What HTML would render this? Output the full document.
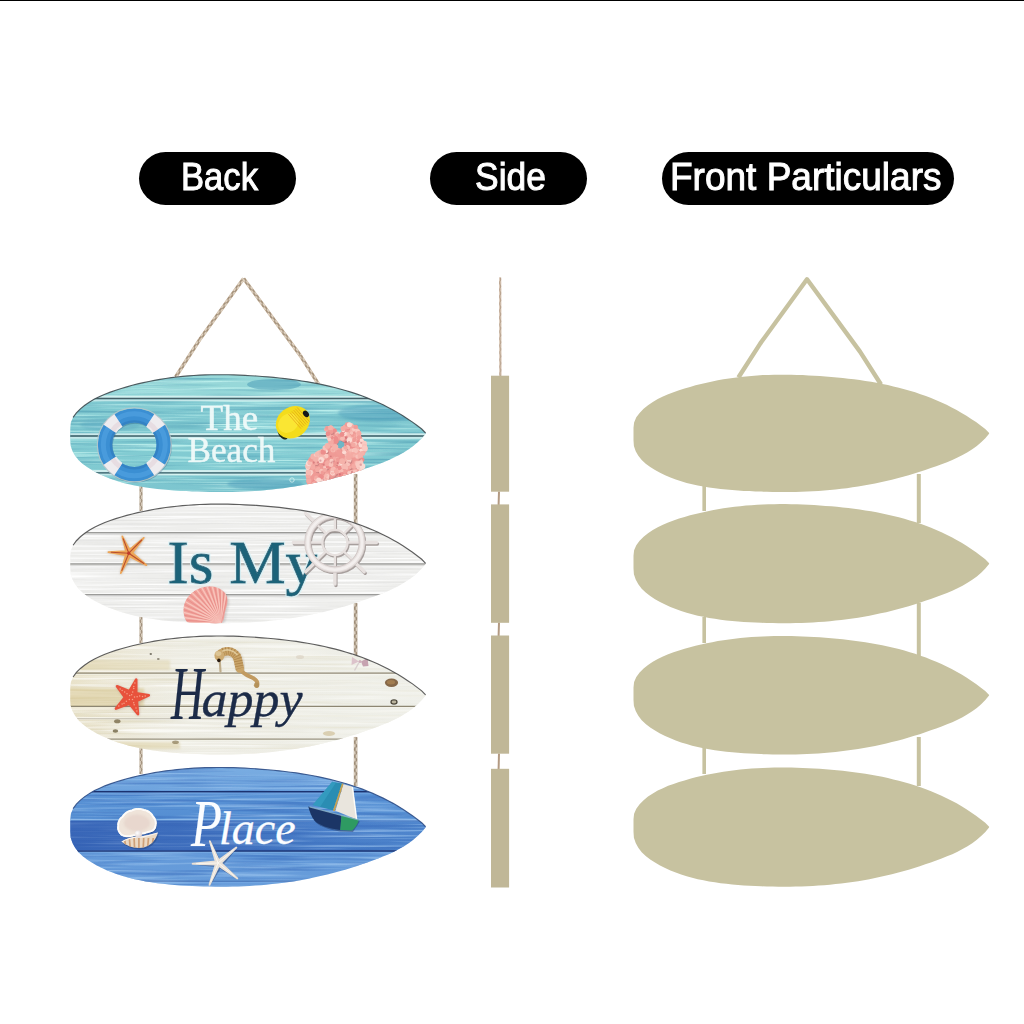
<!DOCTYPE html>
<html lang="en">
<head>
<meta charset="utf-8">
<title>Surfboard hanging sign - Back, Side, Front Particulars</title>
<style>
html,body{margin:0;padding:0;background:#fff}
body{width:1024px;height:1024px;overflow:hidden;position:relative;font-family:"Liberation Sans",sans-serif}
.topline{position:absolute;left:0;top:0;width:1024px;height:1.4px;background:#000}
.art{position:absolute;left:0;top:0;display:block}
.pill{position:absolute;top:151.5px;height:53.5px;border-radius:27px;background:#000;color:#fff;overflow:hidden}
.pill span{position:absolute;left:0;top:0;white-space:nowrap;font-size:39.6px;line-height:49.4px;transform-origin:0 50%;-webkit-text-stroke:1px #fff}
.art text{font-family:"Liberation Serif",serif}
.script{position:absolute;left:0;top:0;margin:0;font-family:"Liberation Serif",serif;font-style:italic;font-weight:normal;white-space:nowrap;line-height:1}
.script span,.script::before{position:absolute;display:block;transform-origin:0 0}
.happy::before{content:"H";left:170.5px;top:656.2px;font-size:48px;transform:scale(0.95,1.57);-webkit-text-stroke:0.15px currentColor}
.place::before{content:"P";left:190.5px;top:789.5px;font-size:44px;transform:scale(1.15,1.56);-webkit-text-stroke:0.1px currentColor}
.script .word::first-letter{color:transparent;-webkit-text-stroke-color:transparent}
.happy{color:#1c2b48}
.place{color:#fbfdff}
</style>
</head>
<body>
<div class="topline"></div>
<div class="pill" style="left:139px;width:157px"><span style="left:42.3px;transform:scaleX(0.875)">Back</span></div>
<div class="pill" style="left:430px;width:157px"><span style="left:45.0px;transform:scaleX(0.895)">Side</span></div>
<div class="pill" style="left:661.5px;width:292.3px"><span style="left:8.9px;transform:scaleX(0.935)">Front Particulars</span></div>
<svg class="art" width="1024" height="1024" viewBox="0 0 1024 1024" role="img" aria-label="Hanging surfboard sign: back, side and front views">
<defs>
<path id="bd" d="M0 57L0 50.9L0.6 45.4L2.8 40.4L6.1 35.9L10.1 31.9L14.5 28.4L19.3 25.2L24.2 22.4L29.4 20L34.6 17.7L40 15.8L45.5 13.9L51 12.3L56.5 10.7L62 9.3L67.5 8L73.1 6.8L78.7 5.7L84.2 4.6L89.8 3.7L95.4 2.9L101 2.2L106.7 1.6L112.3 1L117.9 0.6L123.6 0.2L129.2 -0.1L134.9 -0.3L140.6 -0.4L146.3 -0.5L151.9 -0.5L157.6 -0.4L163.3 -0.3L169 -0.1L174.7 0.2L180.4 0.5L186.1 0.8L191.8 1.3L197.6 1.7L203.3 2.2L209 2.8L214.6 3.5L220.3 4.2L226 4.9L231.6 5.8L237.3 6.7L242.9 7.7L248.5 8.8L254.1 10L259.6 11.3L265.1 12.6L270.6 14.1L276 15.7L281.4 17.3L286.7 19.1L292.1 21L297.3 23.1L302.5 25.2L307.7 27.5L312.8 29.9L317.9 32.5L322.8 35.1L327.8 38L332.6 40.9L337.4 44.1L342.2 47.3L346.8 50.8L351.4 54.3L355.3 58.3L355.2 59L351.5 63.5L347.3 67.6L343 71.3L338.4 74.7L333.7 77.7L328.7 80.5L323.7 83.1L318.5 85.5L313.2 87.7L307.8 89.8L302.4 91.8L297 93.7L291.5 95.6L286 97.5L280.5 99.2L274.9 100.9L269.3 102.5L263.7 104L258.1 105.4L252.5 106.8L246.9 108L241.3 109.2L235.7 110.3L230.1 111.3L224.4 112.3L218.8 113.1L213.2 113.9L207.5 114.6L201.8 115.2L196.2 115.8L190.5 116.3L184.8 116.7L179.1 117L173.4 117.3L167.7 117.5L162 117.7L156.3 117.8L150.6 117.8L144.8 117.8L139.1 117.7L133.3 117.6L127.5 117.4L121.8 117.1L116 116.8L110.2 116.5L104.4 116L98.6 115.6L92.8 115L87 114.3L81.3 113.5L75.5 112.6L69.9 111.5L64.2 110.3L58.6 109L53.1 107.4L47.6 105.7L42.2 103.8L36.9 101.7L31.6 99.3L26.5 96.8L21.5 93.9L16.7 90.8L12.2 87.4L8.2 83.5L4.8 79.2L2.2 74.4L0.4 69.1L0 63.3L0 57Z"/>
<path id="bt" d="M2.8 40.4L6.1 35.9L10.1 31.9L14.5 28.4L19.3 25.2L24.2 22.4L29.4 20L34.6 17.7L40 15.8L45.5 13.9L51 12.3L56.5 10.7L62 9.3L67.5 8L73.1 6.8L78.7 5.7L84.2 4.6L89.8 3.7L95.4 2.9L101 2.2L106.7 1.6L112.3 1L117.9 0.6L123.6 0.2L129.2 -0.1L134.9 -0.3L140.6 -0.4L146.3 -0.5L151.9 -0.5L157.6 -0.4L163.3 -0.3L169 -0.1L174.7 0.2L180.4 0.5L186.1 0.8L191.8 1.3L197.6 1.7L203.3 2.2L209 2.8L214.6 3.5L220.3 4.2L226 4.9L231.6 5.8L237.3 6.7L242.9 7.7L248.5 8.8L254.1 10L259.6 11.3L265.1 12.6L270.6 14.1L276 15.7L281.4 17.3L286.7 19.1L292.1 21L297.3 23.1L302.5 25.2L307.7 27.5L312.8 29.9L317.9 32.5L322.8 35.1L327.8 38L332.6 40.9L337.4 44.1L342.2 47.3L346.8 50.8L351.4 54.3L355.3 58.3"/>
<path id="bd1" d="M0 59.2L0 53.1L0.6 47.6L2.8 42.5L6.1 38L10.1 33.9L14.5 30.3L19.3 27L24.2 24.1L29.4 21.5L34.6 19.2L40 17.1L45.5 15.2L51 13.4L56.5 11.8L62 10.2L67.5 8.8L73.1 7.5L78.7 6.3L84.2 5.2L89.8 4.2L95.4 3.3L101 2.5L106.7 1.8L112.3 1.2L117.9 0.7L123.6 0.3L129.2 -0.1L134.9 -0.3L140.6 -0.4L146.3 -0.5L151.9 -0.5L157.6 -0.4L163.3 -0.3L169 -0.1L174.7 0.2L180.4 0.5L186.1 0.8L191.8 1.3L197.6 1.7L203.3 2.2L209 2.8L214.6 3.5L220.3 4.2L226 4.9L231.6 5.8L237.3 6.7L242.9 7.7L248.5 8.8L254.1 10L259.6 11.3L265.1 12.6L270.6 14.1L276 15.7L281.4 17.3L286.7 19.1L292.1 21L297.3 23.1L302.5 25.2L307.7 27.5L312.8 29.9L317.9 32.5L322.8 35.1L327.8 38L332.6 40.9L337.4 44.1L342.2 47.3L346.8 50.8L351.4 54.3L355.3 58.3L355.2 59L351.5 63.5L347.3 67.6L343 71.3L338.4 74.7L333.7 77.7L328.7 80.5L323.7 83.1L318.5 85.5L313.2 87.7L307.8 89.8L302.4 91.8L297 93.7L291.5 95.6L286 97.5L280.5 99.2L274.9 100.9L269.3 102.5L263.7 104L258.1 105.4L252.5 106.8L246.9 108L241.3 109.2L235.7 110.3L230.1 111.3L224.4 112.3L218.8 113.1L213.2 113.9L207.5 114.6L201.8 115.2L196.2 115.8L190.5 116.3L184.8 116.7L179.1 117L173.4 117.3L167.7 117.5L162 117.7L156.3 117.8L150.6 117.8L144.8 117.8L139.1 117.7L133.3 117.6L127.5 117.4L121.8 117.2L116 116.9L110.2 116.7L104.4 116.3L98.6 115.9L92.8 115.4L87 114.8L81.3 114.1L75.5 113.3L69.9 112.3L64.2 111.2L58.6 110L53.1 108.6L47.6 106.9L42.2 105.1L36.9 103.1L31.6 100.9L26.5 98.4L21.5 95.7L16.7 92.7L12.2 89.3L8.2 85.5L4.8 81.3L2.2 76.6L0.4 71.3L0 65.5L0 59.2Z"/>
<path id="bt1" d="M2.8 42.5L6.1 38L10.1 33.9L14.5 30.3L19.3 27L24.2 24.1L29.4 21.5L34.6 19.2L40 17.1L45.5 15.2L51 13.4L56.5 11.8L62 10.2L67.5 8.8L73.1 7.5L78.7 6.3L84.2 5.2L89.8 4.2L95.4 3.3L101 2.5L106.7 1.8L112.3 1.2L117.9 0.7L123.6 0.3L129.2 -0.1L134.9 -0.3L140.6 -0.4L146.3 -0.5L151.9 -0.5L157.6 -0.4L163.3 -0.3L169 -0.1L174.7 0.2L180.4 0.5L186.1 0.8L191.8 1.3L197.6 1.7L203.3 2.2L209 2.8L214.6 3.5L220.3 4.2L226 4.9L231.6 5.8L237.3 6.7L242.9 7.7L248.5 8.8L254.1 10L259.6 11.3L265.1 12.6L270.6 14.1L276 15.7L281.4 17.3L286.7 19.1L292.1 21L297.3 23.1L302.5 25.2L307.7 27.5L312.8 29.9L317.9 32.5L322.8 35.1L327.8 38L332.6 40.9L337.4 44.1L342.2 47.3L346.8 50.8L351.4 54.3L355.3 58.3"/>
<clipPath id="c1"><use href="#bd1" transform="translate(70.3 375.2) scale(1 0.9915)"/></clipPath>
<clipPath id="c2"><use href="#bd" transform="translate(70.3 504.6) scale(1 1.0068)"/></clipPath>
<clipPath id="c3"><use href="#bd" transform="translate(70.3 636.5) scale(1 1.0017)"/></clipPath>
<clipPath id="c4"><use href="#bd" transform="translate(70.3 768) scale(1 1.0076)"/></clipPath>
<filter id="t1a" x="0" y="0" width="100%" height="100%" color-interpolation-filters="sRGB"><feTurbulence type="fractalNoise" baseFrequency="0.01 0.42" numOctaves="2" seed="3"/><feColorMatrix type="matrix" values="0 0 0 0 0.769 0 0 0 0 0.957 0 0 0 0 0.941 3.00 0 0 0 -1.40"/></filter>
<filter id="t1b" x="0" y="0" width="100%" height="100%" color-interpolation-filters="sRGB"><feTurbulence type="fractalNoise" baseFrequency="0.009 0.36" numOctaves="2" seed="8"/><feColorMatrix type="matrix" values="0 0 0 0 0.345 0 0 0 0 0.643 0 0 0 0 0.722 3.20 0 0 0 -1.60"/></filter>
<filter id="t2a" x="0" y="0" width="100%" height="100%" color-interpolation-filters="sRGB"><feTurbulence type="fractalNoise" baseFrequency="0.008 0.5" numOctaves="2" seed="5"/><feColorMatrix type="matrix" values="0 0 0 0 1.000 0 0 0 0 1.000 0 0 0 0 1.000 3.00 0 0 0 -1.30"/></filter>
<filter id="t2b" x="0" y="0" width="100%" height="100%" color-interpolation-filters="sRGB"><feTurbulence type="fractalNoise" baseFrequency="0.007 0.55" numOctaves="2" seed="12"/><feColorMatrix type="matrix" values="0 0 0 0 0.769 0 0 0 0 0.769 0 0 0 0 0.761 2.60 0 0 0 -1.25"/></filter>
<filter id="t3a" x="0" y="0" width="100%" height="100%" color-interpolation-filters="sRGB"><feTurbulence type="fractalNoise" baseFrequency="0.009 0.4" numOctaves="2" seed="21"/><feColorMatrix type="matrix" values="0 0 0 0 0.988 0 0 0 0 0.984 0 0 0 0 0.965 3.00 0 0 0 -1.30"/></filter>
<filter id="t3b" x="0" y="0" width="100%" height="100%" color-interpolation-filters="sRGB"><feTurbulence type="fractalNoise" baseFrequency="0.008 0.34" numOctaves="2" seed="17"/><feColorMatrix type="matrix" values="0 0 0 0 0.808 0 0 0 0 0.769 0 0 0 0 0.612 3.00 0 0 0 -1.50"/></filter>
<filter id="t4a" x="0" y="0" width="100%" height="100%" color-interpolation-filters="sRGB"><feTurbulence type="fractalNoise" baseFrequency="0.01 0.4" numOctaves="2" seed="4"/><feColorMatrix type="matrix" values="0 0 0 0 0.588 0 0 0 0 0.753 0 0 0 0 0.925 3.20 0 0 0 -1.50"/></filter>
<filter id="t4b" x="0" y="0" width="100%" height="100%" color-interpolation-filters="sRGB"><feTurbulence type="fractalNoise" baseFrequency="0.009 0.33" numOctaves="2" seed="9"/><feColorMatrix type="matrix" values="0 0 0 0 0.235 0 0 0 0 0.439 0 0 0 0 0.745 3.20 0 0 0 -1.55"/></filter>
<filter id="spk" x="0" y="0" width="100%" height="100%" color-interpolation-filters="sRGB"><feTurbulence type="fractalNoise" baseFrequency="0.55 0.55" numOctaves="1" seed="2"/><feColorMatrix type="matrix" values="0 0 0 0 1.000 0 0 0 0 0.925 0 0 0 0 0.886 3.20 0 0 0 -1.50"/></filter>
<filter id="spd" x="0" y="0" width="100%" height="100%" color-interpolation-filters="sRGB"><feTurbulence type="fractalNoise" baseFrequency="0.45 0.45" numOctaves="1" seed="6"/><feColorMatrix type="matrix" values="0 0 0 0 0.769 0 0 0 0 0.329 0 0 0 0 0.361 3.00 0 0 0 -1.55"/></filter>
<filter id="halo" x="-5%" y="-10%" width="110%" height="120%"><feMorphology in="SourceAlpha" operator="dilate" radius="1.1"/><feGaussianBlur stdDeviation=".6" result="b"/><feFlood flood-color="#d6f2f7" flood-opacity=".85"/><feComposite in2="b" operator="in"/><feMerge><feMergeNode/><feMergeNode in="SourceGraphic"/></feMerge></filter>
<filter id="soft" x="-20%" y="-20%" width="140%" height="140%"><feGaussianBlur stdDeviation="0.6"/></filter>
<filter id="soft2" x="-20%" y="-20%" width="140%" height="140%"><feGaussianBlur stdDeviation="1.2"/></filter>
<filter id="sil" x="-2%" y="-2%" width="104%" height="104%"><feTurbulence type="fractalNoise" baseFrequency="0.08" numOctaves="2" seed="4" result="n"/><feDisplacementMap in="SourceGraphic" in2="n" scale="1.6"/></filter>
<linearGradient id="g1" x1="0" y1="0" x2="0" y2="1"><stop offset="0" stop-color="#9adada"/><stop offset=".19" stop-color="#94d6d8"/><stop offset=".21" stop-color="#80c9d1"/><stop offset=".51" stop-color="#7ec8d0"/><stop offset=".53" stop-color="#84cdd3"/><stop offset=".82" stop-color="#80cad1"/><stop offset=".84" stop-color="#7fc8d0"/><stop offset="1" stop-color="#7cc5cf"/></linearGradient>
<linearGradient id="g3" x1="0" y1="0" x2="1" y2="0"><stop offset="0" stop-color="#e9e2c9"/><stop offset=".3" stop-color="#edebe0"/><stop offset="1" stop-color="#eeeee8"/></linearGradient>
<linearGradient id="g4" x1="0" y1="0" x2="0" y2="1"><stop offset="0" stop-color="#7aade2"/><stop offset=".19" stop-color="#6fa4de"/><stop offset=".21" stop-color="#5c95d7"/><stop offset=".43" stop-color="#558ed2"/><stop offset=".45" stop-color="#5188cf"/><stop offset=".69" stop-color="#4c83cb"/><stop offset=".71" stop-color="#6399d9"/><stop offset="1" stop-color="#699edb"/></linearGradient>
<linearGradient id="g4d" x1="0" y1="0" x2="1" y2="0"><stop offset="0" stop-color="#2a52aa" stop-opacity=".62"/><stop offset=".4" stop-color="#2a52aa" stop-opacity=".42"/><stop offset=".75" stop-color="#2a52aa" stop-opacity=".12"/><stop offset="1" stop-color="#2a52aa" stop-opacity="0"/></linearGradient>
<linearGradient id="g3w" x1="0" y1="0" x2="1" y2="0"><stop offset="0" stop-color="#eff0ea" stop-opacity="0"/><stop offset=".3" stop-color="#eff0ea" stop-opacity=".25"/><stop offset="1" stop-color="#eff0ea" stop-opacity=".6"/></linearGradient>
<radialGradient id="gpearl" cx=".35" cy=".35" r=".7"><stop offset="0" stop-color="#ffffff"/><stop offset="1" stop-color="#d9cfd0"/></radialGradient>
</defs>
<g id="front" fill="#c7c2a0" stroke="none">
<path d="M738.4 377.5L760.2 343.6L807 279.2L860 351.6L881 384.5" fill="none" stroke="#c7c2a0" stroke-width="4.4" stroke-linejoin="round" stroke-linecap="butt"/>
<rect x="702.4" y="486" width="3.6" height="25"/>
<rect x="702.4" y="617" width="3.6" height="26"/>
<rect x="702.4" y="748" width="3.6" height="26"/>
<rect x="916.8" y="474" width="4" height="49"/>
<rect x="916.8" y="603" width="4" height="53"/>
<rect x="916.8" y="737" width="4" height="49"/>
<use href="#bd1" transform="translate(633.5 375.2) scale(1.001 0.9915)"/>
<use href="#bd" transform="translate(633.5 504.6) scale(1.001 1.0068)"/>
<use href="#bd" transform="translate(633.5 636.5) scale(1.001 1.0017)"/>
<use href="#bd" transform="translate(633.5 768) scale(1.001 1.0076)"/>
</g>
<g id="side">
<line x1="500.2" y1="277.5" x2="500.4" y2="376" stroke="#c7ab94" stroke-width="2.0" opacity="1"/><path d="M500.2 277.5L499.6 279L499.9 280.5L500.7 282L500.7 283.6L499.9 285.1L499.6 286.6L500.3 288.1L500.9 289.6L500.4 291.1L499.7 292.7L499.8 294.2L500.6 295.7L500.8 297.2L500.1 298.7L499.6 300.2L500.1 301.7L500.8 303.3L500.6 304.8L499.8 306.3L499.7 307.8L500.4 309.3L500.9 310.8L500.4 312.4L499.7 313.9L499.9 315.4L500.7 316.9L500.8 318.4L500 319.9L499.7 321.4L500.3 323L500.9 324.5L500.6 326L499.8 327.5L499.8 329L500.6 330.5L500.9 332.1L500.3 333.6L499.7 335.1L500.1 336.6L500.9 338.1L500.8 339.6L500 341.1L499.7 342.7L500.4 344.2L501 345.7L500.5 347.2L499.8 348.7L499.9 350.2L500.8 351.8L500.9 353.3L500.2 354.8L499.7 356.3L500.3 357.8L501 359.3L500.7 360.8L499.9 362.4L499.8 363.9L500.6 365.4L501 366.9L500.4 368.4L499.8 369.9L500.1 371.5L500.9 373L500.9 374.5L500.1 376" fill="none" stroke="#e6dccf" stroke-width="0.8" opacity=".75"/><path d="M500.2 277.5L500.8 279L500.5 280.5L499.7 282L499.7 283.6L500.5 285.1L500.8 286.6L500.2 288.1L499.6 289.6L500 291.1L500.8 292.7L500.7 294.2L499.9 295.7L499.7 297.2L500.4 298.7L500.9 300.2L500.4 301.7L499.7 303.3L499.9 304.8L500.7 306.3L500.8 307.8L500.1 309.3L499.6 310.8L500.2 312.4L500.9 313.9L500.6 315.4L499.8 316.9L499.8 318.4L500.5 319.9L500.9 321.4L500.3 323L499.7 324.5L500 326L500.8 327.5L500.8 329L500 330.5L499.7 332.1L500.4 333.6L500.9 335.1L500.5 336.6L499.8 338.1L499.9 339.6L500.7 341.1L500.9 342.7L500.2 344.2L499.7 345.7L500.2 347.2L500.9 348.7L500.8 350.2L499.9 351.8L499.8 353.3L500.5 354.8L501 356.3L500.5 357.8L499.8 359.3L500 360.8L500.8 362.4L500.9 363.9L500.2 365.4L499.7 366.9L500.3 368.4L501 369.9L500.7 371.5L499.9 373L499.9 374.5L500.7 376" fill="none" stroke="#8c7b68" stroke-width="0.6" opacity=".6"/>
<line x1="499" y1="491.5" x2="498.6" y2="505" stroke="#b39a82" stroke-width="2"/>
<line x1="499" y1="622.5" x2="498.6" y2="636" stroke="#b39a82" stroke-width="2"/>
<line x1="499" y1="753.5" x2="498.6" y2="769" stroke="#b39a82" stroke-width="2"/>
<rect x="491" y="375.7" width="18.1" height="116" fill="#c0b797"/>
<rect x="491" y="504.4" width="18.1" height="118.4" fill="#c0b797"/>
<rect x="491" y="635.5" width="18.1" height="118.2" fill="#c0b797"/>
<rect x="491" y="768.8" width="18.1" height="118.7" fill="#c0b797"/>
</g>
<g id="back">
<line x1="175.6" y1="377" x2="199.6" y2="339.8" stroke="#c5b097" stroke-width="3.5" opacity="1"/><path d="M175.6 377L177.3 376.3L177.6 374.7L177.3 372.7L178.2 371.4L180.2 370.9L181.4 369.9L181.2 367.9L181.3 366.1L182.8 365.3L184.7 364.7L185.3 363.3L184.9 361.2L185.5 359.8L187.5 359.2L188.9 358.4L188.9 356.5L188.8 354.6L190.1 353.6L192.1 353.1L192.9 351.8L192.5 349.8L192.9 348.2L194.7 347.6L196.4 346.8L196.6 345.1L196.3 343.1L197.3 342L199.4 341.5L200.4 340.3" fill="none" stroke="#e6dccf" stroke-width="1.3" opacity=".75"/><path d="M175.6 377L175.5 375.1L176.9 374.2L178.9 373.7L179.6 372.3L179.2 370.3L179.7 368.7L181.5 368.1L183.2 367.3L183.3 365.6L183 363.6L184.1 362.5L186.2 362L187.2 360.8L186.9 358.8L187.1 357.2L188.8 356.4L190.6 355.8L190.9 354.2L190.6 352.2L191.4 350.9L193.4 350.4L194.7 349.4L194.5 347.4L194.5 345.6L196 344.8L197.9 344.2L198.6 342.8L198.2 340.7L198.8 339.3" fill="none" stroke="#8c7b68" stroke-width="1.1" opacity=".6"/>
<line x1="199.6" y1="339.8" x2="243.6" y2="278.5" stroke="#c5b097" stroke-width="3.5" opacity="1"/><path d="M199.6 339.8L201.4 339.2L201.7 337.6L201.5 335.6L202.4 334.4L204.4 334L205.8 333.1L205.7 331.2L205.7 329.3L207.2 328.5L209.2 328.1L209.9 326.8L209.7 324.7L210.2 323.2L212 322.7L213.7 322.1L214 320.4L213.8 318.4L214.8 317.3L216.8 316.9L218 315.9L217.9 313.9L218.1 312.2L219.6 311.4L221.5 311L222.2 309.6L221.9 307.5L222.5 306.1L224.4 305.6L226 304.9L226.2 303.2L226 301.2L227.2 300.2L229.2 299.8L230.3 298.7L230.1 296.7L230.4 295L232 294.3L233.9 293.8L234.4 292.3L234.2 290.3L234.9 289L236.9 288.5L238.3 287.7L238.4 285.9L238.3 284L239.6 283.1L241.6 282.7L242.6 281.5L242.4 279.5L242.7 277.9" fill="none" stroke="#e6dccf" stroke-width="1.3" opacity=".75"/><path d="M199.6 339.8L199.6 337.9L201 337.1L203 336.6L203.8 335.4L203.6 333.4L204 331.8L205.8 331.3L207.5 330.6L207.9 329L207.6 327L208.6 325.8L210.6 325.4L211.9 324.5L211.8 322.6L211.9 320.8L213.4 320L215.3 319.5L216.1 318.2L215.8 316.1L216.4 314.7L218.2 314.2L219.9 313.5L220.1 311.8L219.9 309.8L221 308.7L223 308.3L224.2 307.3L224 305.3L224.2 303.6L225.8 302.9L227.7 302.4L228.3 301L228 298.9L228.7 297.5L230.7 297.1L232.2 296.3L232.3 294.5L232.2 292.6L233.4 291.6L235.4 291.2L236.5 290.1L236.3 288.1L236.5 286.4L238.2 285.8L240.1 285.3L240.5 283.7L240.3 281.7L241.1 280.4L243.1 280L244.5 279.1" fill="none" stroke="#8c7b68" stroke-width="1.1" opacity=".6"/>
<line x1="243.6" y1="278.5" x2="300.2" y2="355.4" stroke="#c5b097" stroke-width="3.5" opacity="1"/><path d="M243.6 278.5L243.6 280.4L245 281.2L247 281.6L247.9 282.9L247.6 284.9L248.1 286.5L250 287L251.7 287.6L252 289.3L251.8 291.3L252.9 292.4L254.9 292.8L256.1 293.8L256 295.7L256.2 297.5L257.8 298.2L259.7 298.6L260.3 300.1L260.1 302.1L260.8 303.5L262.7 303.9L264.3 304.7L264.4 306.5L264.3 308.4L265.6 309.4L267.6 309.8L268.6 310.9L268.4 312.9L268.8 314.6L270.5 315.1L272.3 315.7L272.7 317.3L272.5 319.3L273.5 320.5L275.5 320.9L276.8 321.8L276.8 323.7L276.8 325.5L278.3 326.3L280.3 326.8L281.1 328.1L280.8 330.1L281.4 331.6L283.3 332.1L284.9 332.8L285.2 334.5L285 336.5L286.2 337.5L288.2 337.9L289.3 338.9L289.2 340.9L289.4 342.6L291.1 343.3L293 343.8L293.5 345.3L293.3 347.3L294.1 348.6L296 349.1L297.5 349.9L297.6 351.7L297.5 353.6L298.9 354.5L300.9 354.9" fill="none" stroke="#e6dccf" stroke-width="1.3" opacity=".75"/><path d="M243.6 278.5L245.4 279.1L245.8 280.7L245.6 282.7L246.5 283.9L248.5 284.3L249.8 285.2L249.8 287.1L249.9 288.9L251.4 289.7L253.4 290.1L254.1 291.5L253.9 293.5L254.5 295L256.4 295.5L258 296.1L258.2 297.9L258.1 299.9L259.2 300.9L261.3 301.3L262.4 302.3L262.2 304.3L262.5 306L264.1 306.7L266 307.2L266.5 308.7L266.3 310.7L267.1 312L269.1 312.4L270.5 313.2L270.6 315.1L270.6 317L272 317.8L274 318.3L274.8 319.5L274.6 321.5L275.1 323.1L276.9 323.6L278.6 324.2L278.9 325.9L278.8 327.9L279.8 329L281.8 329.4L283.1 330.4L283 332.3L283.1 334.1L284.7 334.8L286.6 335.3L287.3 336.7L287.1 338.7L287.7 340.1L289.7 340.6L291.2 341.3L291.4 343.1L291.3 345L292.5 346L294.5 346.4L295.6 347.5L295.4 349.5L295.7 351.2L297.5 351.8L299.3 352.3L299.7 353.9L299.5 355.9" fill="none" stroke="#8c7b68" stroke-width="1.1" opacity=".6"/>
<line x1="300.2" y1="355.4" x2="318.4" y2="384" stroke="#c5b097" stroke-width="3.5" opacity="1"/><path d="M300.2 355.4L300.1 357.3L301.5 358.2L303.5 358.8L304.2 360.2L303.8 362.3L304.3 363.7L306.2 364.3L307.8 365.2L307.8 367L307.6 369L308.9 370L310.9 370.5L311.7 371.8L311.3 373.9L311.7 375.5L313.6 376.1L315.2 376.9L315.3 378.7L315.1 380.6L316.2 381.7L318.2 382.3L319.2 383.5" fill="none" stroke="#e6dccf" stroke-width="1.3" opacity=".75"/><path d="M300.2 355.4L302 356.1L302.2 357.8L301.9 359.8L302.9 361L304.9 361.5L306 362.7L305.8 364.7L305.9 366.4L307.5 367.2L309.4 367.8L309.7 369.4L309.4 371.5L310.2 372.8L312.2 373.3L313.5 374.3L313.3 376.3L313.3 378.1L314.9 378.9L316.8 379.6L317.3 381.1L316.9 383.1L317.6 384.5" fill="none" stroke="#8c7b68" stroke-width="1.1" opacity=".6"/>
<line x1="141" y1="485" x2="141" y2="511" stroke="#b3a28d" stroke-width="3.0" opacity="1"/><path d="M141 485L140.1 486.5L140.6 488.1L141.8 489.6L141.7 491.1L140.5 492.6L140.1 494.2L141.2 495.7L142 497.2L141.2 498.8L140.1 500.3L140.5 501.8L141.7 503.4L141.8 504.9L140.7 506.4L140.1 507.9L141 509.5L141.9 511" fill="none" stroke="#e6dccf" stroke-width="1.1" opacity=".75"/><path d="M141 485L141.9 486.5L141.4 488.1L140.2 489.6L140.3 491.1L141.5 492.6L141.9 494.2L140.8 495.7L140 497.2L140.8 498.8L141.9 500.3L141.5 501.8L140.3 503.4L140.2 504.9L141.3 506.4L141.9 507.9L141 509.5L140.1 511" fill="none" stroke="#8c7b68" stroke-width="0.9" opacity=".6"/>
<line x1="141" y1="616" x2="141" y2="643" stroke="#b3a28d" stroke-width="3.0" opacity="1"/><path d="M141 616L140.1 617.5L140.6 619L141.8 620.5L141.8 622L140.6 623.5L140.1 625L141 626.5L141.9 628L141.4 629.5L140.2 631L140.2 632.5L141.4 634L141.9 635.5L141 637L140.1 638.5L140.6 640L141.8 641.5L141.8 643" fill="none" stroke="#e6dccf" stroke-width="1.1" opacity=".75"/><path d="M141 616L141.9 617.5L141.4 619L140.2 620.5L140.2 622L141.4 623.5L141.9 625L141 626.5L140.1 628L140.6 629.5L141.8 631L141.8 632.5L140.6 634L140.1 635.5L141 637L141.9 638.5L141.4 640L140.2 641.5L140.2 643" fill="none" stroke="#8c7b68" stroke-width="0.9" opacity=".6"/>
<line x1="141" y1="747" x2="141" y2="774" stroke="#b3a28d" stroke-width="3.0" opacity="1"/><path d="M141 747L140.1 748.5L140.6 750L141.8 751.5L141.8 753L140.6 754.5L140.1 756L141 757.5L141.9 759L141.4 760.5L140.2 762L140.2 763.5L141.4 765L141.9 766.5L141 768L140.1 769.5L140.6 771L141.8 772.5L141.8 774" fill="none" stroke="#e6dccf" stroke-width="1.1" opacity=".75"/><path d="M141 747L141.9 748.5L141.4 750L140.2 751.5L140.2 753L141.4 754.5L141.9 756L141 757.5L140.1 759L140.6 760.5L141.8 762L141.8 763.5L140.6 765L140.1 766.5L141 768L141.9 769.5L141.4 771L140.2 772.5L140.2 774" fill="none" stroke="#8c7b68" stroke-width="0.9" opacity=".6"/>
<line x1="355.6" y1="474" x2="355.6" y2="523" stroke="#b3a28d" stroke-width="3.6" opacity="1"/><path d="M355.6 474L354.5 475.5L355.2 477.1L356.6 478.6L356.4 480.1L355 481.7L354.5 483.2L355.8 484.7L356.8 486.2L355.8 487.8L354.5 489.3L355 490.8L356.4 492.4L356.6 493.9L355.2 495.4L354.5 497L355.6 498.5L356.7 500L356 501.6L354.6 503.1L354.8 504.6L356.2 506.2L356.7 507.7L355.4 509.2L354.4 510.8L355.4 512.3L356.7 513.8L356.2 515.3L354.8 516.9L354.6 518.4L356 519.9L356.7 521.5L355.6 523" fill="none" stroke="#e6dccf" stroke-width="1.4" opacity=".75"/><path d="M355.6 474L356.7 475.5L356 477.1L354.6 478.6L354.8 480.1L356.2 481.7L356.7 483.2L355.4 484.7L354.4 486.2L355.4 487.8L356.7 489.3L356.2 490.8L354.8 492.4L354.6 493.9L356 495.4L356.7 497L355.6 498.5L354.5 500L355.2 501.6L356.6 503.1L356.4 504.6L355 506.2L354.5 507.7L355.8 509.2L356.8 510.8L355.8 512.3L354.5 513.8L355 515.3L356.4 516.9L356.6 518.4L355.2 519.9L354.5 521.5L355.6 523" fill="none" stroke="#8c7b68" stroke-width="1.1" opacity=".6"/>
<line x1="355.6" y1="603" x2="355.6" y2="656" stroke="#b3a28d" stroke-width="3.6" opacity="1"/><path d="M355.6 603L354.5 604.5L355.1 606L356.5 607.5L356.5 609.1L355 610.6L354.5 612.1L355.7 613.6L356.7 615.1L356 616.6L354.6 618.1L354.8 619.7L356.3 621.2L356.7 622.7L355.4 624.2L354.4 625.7L355.3 627.2L356.6 628.7L356.3 630.3L354.9 631.8L354.6 633.3L355.9 634.8L356.8 636.3L355.8 637.8L354.5 639.3L355 640.9L356.4 642.4L356.6 643.9L355.2 645.4L354.5 646.9L355.5 648.4L356.7 649.9L356.1 651.5L354.7 653L354.7 654.5L356.1 656" fill="none" stroke="#e6dccf" stroke-width="1.4" opacity=".75"/><path d="M355.6 603L356.7 604.5L356.1 606L354.7 607.5L354.7 609.1L356.2 610.6L356.7 612.1L355.5 613.6L354.5 615.1L355.2 616.6L356.6 618.1L356.4 619.7L354.9 621.2L354.5 622.7L355.8 624.2L356.8 625.7L355.9 627.2L354.6 628.7L354.9 630.3L356.3 631.8L356.6 633.3L355.3 634.8L354.4 636.3L355.4 637.8L356.7 639.3L356.2 640.9L354.8 642.4L354.6 643.9L356 645.4L356.7 646.9L355.7 648.4L354.5 649.9L355.1 651.5L356.5 653L356.5 654.5L355.1 656" fill="none" stroke="#8c7b68" stroke-width="1.1" opacity=".6"/>
<line x1="355.6" y1="737" x2="355.6" y2="786" stroke="#b3a28d" stroke-width="3.6" opacity="1"/><path d="M355.6 737L354.5 738.5L355.2 740.1L356.6 741.6L356.4 743.1L355 744.7L354.5 746.2L355.8 747.7L356.8 749.2L355.8 750.8L354.5 752.3L355 753.8L356.4 755.4L356.6 756.9L355.2 758.4L354.5 760L355.6 761.5L356.7 763L356 764.6L354.6 766.1L354.8 767.6L356.2 769.2L356.7 770.7L355.4 772.2L354.4 773.8L355.4 775.3L356.7 776.8L356.2 778.3L354.8 779.9L354.6 781.4L356 782.9L356.7 784.5L355.6 786" fill="none" stroke="#e6dccf" stroke-width="1.4" opacity=".75"/><path d="M355.6 737L356.7 738.5L356 740.1L354.6 741.6L354.8 743.1L356.2 744.7L356.7 746.2L355.4 747.7L354.4 749.2L355.4 750.8L356.7 752.3L356.2 753.8L354.8 755.4L354.6 756.9L356 758.4L356.7 760L355.6 761.5L354.5 763L355.2 764.6L356.6 766.1L356.4 767.6L355 769.2L354.5 770.7L355.8 772.2L356.8 773.8L355.8 775.3L354.5 776.8L355 778.3L356.4 779.9L356.6 781.4L355.2 782.9L354.5 784.5L355.6 786" fill="none" stroke="#8c7b68" stroke-width="1.1" opacity=".6"/>
<g clip-path="url(#c1)">
<rect x="68" y="373.2" width="360" height="120.8" fill="url(#g1)"/>
<rect x="68" y="373.2" width="360" height="120.8" filter="url(#t1a)" opacity="0.85"/>
<rect x="68" y="373.2" width="360" height="120.8" filter="url(#t1b)" opacity="0.7"/>
<ellipse cx="380" cy="413" rx="42" ry="9" fill="#4a9ab8" opacity=".4" filter="url(#soft2)"/>
<ellipse cx="265" cy="484" rx="38" ry="6" fill="#4a9ab8" opacity=".45" filter="url(#soft2)"/>
<ellipse cx="235" cy="452" rx="40" ry="7" fill="#4a9ab8" opacity=".25" filter="url(#soft2)"/>
<ellipse cx="110" cy="425" rx="30" ry="6" fill="#4a9ab8" opacity=".3" filter="url(#soft2)"/>
<ellipse cx="274" cy="384.5" rx="27" ry="5.5" fill="#4f9fb8" opacity=".55"/>
<line x1="66" y1="396.8" x2="430" y2="396.8" stroke="#e2f6f4" stroke-width="2.0" opacity="0.8"/>
<line x1="66" y1="400.2" x2="430" y2="400.2" stroke="#e2f6f4" stroke-width="2.0" opacity="0.7"/>
<line x1="66" y1="398.5" x2="430" y2="398.5" stroke="#456068" stroke-width="1.3" opacity="1"/>
<line x1="66" y1="434.3" x2="430" y2="434.3" stroke="#e2f6f4" stroke-width="2.0" opacity="0.8"/>
<line x1="66" y1="437.7" x2="430" y2="437.7" stroke="#e2f6f4" stroke-width="2.0" opacity="0.7"/>
<line x1="66" y1="436" x2="430" y2="436" stroke="#456068" stroke-width="1.3" opacity="1"/>
<line x1="66" y1="471.1" x2="430" y2="471.1" stroke="#e2f6f4" stroke-width="2.0" opacity="0.8"/>
<line x1="66" y1="474.5" x2="430" y2="474.5" stroke="#e2f6f4" stroke-width="2.0" opacity="0.7"/>
<line x1="66" y1="472.8" x2="430" y2="472.8" stroke="#456068" stroke-width="1.3" opacity="1"/>
<text x="200.6" y="429.6" font-size="35.5" fill="#f3fbfa" stroke="#f3fbfa" stroke-width=".45" opacity=".94" textLength="57.6" lengthAdjust="spacingAndGlyphs">The</text>
<text x="187.4" y="461.9" font-size="35" fill="#f3fbfa" stroke="#f3fbfa" stroke-width=".45" opacity=".94" textLength="88" lengthAdjust="spacingAndGlyphs">Beach</text>
<g>
<circle cx="134.3" cy="444.8" r="29.6" fill="none" stroke="#2a5f86" stroke-width="14.6" opacity=".35" transform="translate(.8 1.2)"/>
<circle cx="134.3" cy="444.8" r="29.3" fill="none" stroke="#3b8fd3" stroke-width="14.2"/>
<circle cx="134.3" cy="444.8" r="31" fill="none" stroke="#55a6e4" stroke-width="5" opacity=".55"/>
<circle cx="134.3" cy="444.8" r="23.4" fill="none" stroke="#2f79bb" stroke-width="2.4" opacity=".6"/>
<path d="M158.9 460.8A29.3 29.3 0 0 1 150.3 469.4" fill="none" stroke="#eeecef" stroke-width="15.4"/>
<path d="M156.1 459A26 26 0 0 1 148.5 466.6" fill="none" stroke="#e3d4d8" stroke-width="5" opacity=".6"/>
<path d="M118.3 469.4A29.3 29.3 0 0 1 109.7 460.8" fill="none" stroke="#eeecef" stroke-width="15.4"/>
<path d="M120.1 466.6A26 26 0 0 1 112.5 459" fill="none" stroke="#e3d4d8" stroke-width="5" opacity=".6"/>
<path d="M109.7 428.8A29.3 29.3 0 0 1 118.3 420.2" fill="none" stroke="#eeecef" stroke-width="15.4"/>
<path d="M112.5 430.6A26 26 0 0 1 120.1 423" fill="none" stroke="#e3d4d8" stroke-width="5" opacity=".6"/>
<path d="M150.3 420.2A29.3 29.3 0 0 1 158.9 428.8" fill="none" stroke="#eeecef" stroke-width="15.4"/>
<path d="M148.5 423A26 26 0 0 1 156.1 430.6" fill="none" stroke="#e3d4d8" stroke-width="5" opacity=".6"/>
<circle cx="134.3" cy="444.8" r="37" fill="none" stroke="#b7c6cb" stroke-width="1.1" opacity=".9"/>
</g>
<g transform="translate(292.8 422.2) rotate(-38)">
<ellipse cx="-15" cy="3" rx="4" ry="6.5" fill="#1e2a18"/>
<ellipse cx="0" cy="0" rx="18" ry="15.2" fill="#f4dc1c"/>
<ellipse cx="-4" cy="-2" rx="11" ry="9" fill="#fbe83a" opacity=".8"/>
<line x1="1.5" y1="-9" x2="2.5" y2="10" stroke="#e6a21a" stroke-width=".9" opacity=".75"/>
<line x1="3.7" y1="-9" x2="4.7" y2="10" stroke="#e6a21a" stroke-width=".9" opacity=".75"/>
<line x1="5.9" y1="-9" x2="6.9" y2="10" stroke="#e6a21a" stroke-width=".9" opacity=".75"/>
<line x1="8.1" y1="-9" x2="9.1" y2="10" stroke="#e6a21a" stroke-width=".9" opacity=".75"/>
<line x1="10.3" y1="-9" x2="11.3" y2="10" stroke="#e6a21a" stroke-width=".9" opacity=".75"/>
<line x1="12.5" y1="-9" x2="13.5" y2="10" stroke="#e6a21a" stroke-width=".9" opacity=".75"/>
<ellipse cx="15.5" cy="1.5" rx="2.6" ry="3.6" fill="#15181a"/>
</g>
<g>
<path d="M307.5 472L310 461L317 455L325 450L330 443L329 434L326.5 428.5L331 427L335.5 431L338 437L343 434L344 427L348 424L354 426.5L358.5 431L360 438L364.5 444L365 451L361 456L361 464L362 472L357 480L345 486L330 490L315 490L308 482Z" fill="#ef9a95" stroke="#f2a8a1" stroke-width="3" stroke-linejoin="round" fill-rule="evenodd"/>
<circle cx="340.3" cy="444.6" r="4" fill="#6fb6c6"/>
<g fill="#8c5a60" opacity=".35" transform="translate(.8 1)"><circle cx="344.1" cy="473.7" r="2.8"/><circle cx="334" cy="438.5" r="2.4"/><circle cx="321.4" cy="486.1" r="2.7"/><circle cx="343.8" cy="452.6" r="1.7"/><circle cx="322.1" cy="489.3" r="2.4"/><circle cx="315" cy="489.8" r="1.8"/><circle cx="347.7" cy="445" r="2"/><circle cx="334.7" cy="443.4" r="2.3"/><circle cx="355" cy="447" r="2.4"/><circle cx="332.9" cy="471.3" r="2.5"/><circle cx="357.1" cy="453.8" r="2.3"/><circle cx="319.6" cy="453.9" r="2.4"/><circle cx="325.5" cy="464.4" r="3"/><circle cx="321.2" cy="470.9" r="1.6"/><circle cx="323.2" cy="477.7" r="2.5"/><circle cx="338.2" cy="449.8" r="1.9"/><circle cx="357.5" cy="453.4" r="2.2"/><circle cx="355.9" cy="444.7" r="1.8"/><circle cx="344.6" cy="476.9" r="1.7"/><circle cx="330.8" cy="431" r="3"/><circle cx="335.2" cy="472.8" r="2.3"/><circle cx="334" cy="485" r="1.7"/><circle cx="326.8" cy="476.8" r="2.7"/><circle cx="353.1" cy="446.8" r="2.6"/><circle cx="358.1" cy="439.8" r="3.1"/><circle cx="314.8" cy="481.5" r="2.3"/><circle cx="322.1" cy="456.5" r="2.6"/><circle cx="326" cy="466.7" r="2.7"/><circle cx="326.1" cy="480.8" r="2.9"/><circle cx="337.2" cy="458.6" r="1.8"/><circle cx="348.6" cy="472.1" r="2.7"/><circle cx="337.1" cy="487.5" r="2"/><circle cx="354.1" cy="466.2" r="2.7"/><circle cx="315.9" cy="462.6" r="2.5"/><circle cx="317.5" cy="469.7" r="2.5"/><circle cx="313.9" cy="484.3" r="1.7"/><circle cx="334.9" cy="459.9" r="2.2"/><circle cx="328.1" cy="464.4" r="2.4"/><circle cx="350.4" cy="447.6" r="2.1"/><circle cx="348.5" cy="459.9" r="3"/><circle cx="357" cy="450.8" r="2.8"/><circle cx="342.3" cy="461" r="3"/><circle cx="310.1" cy="461.2" r="2.5"/><circle cx="324.5" cy="483.2" r="2.4"/><circle cx="331.5" cy="437.1" r="2"/><circle cx="328.3" cy="481.7" r="1.8"/><circle cx="351.9" cy="442.4" r="1.9"/><circle cx="335.5" cy="441.3" r="2.3"/><circle cx="334.7" cy="460.8" r="1.9"/><circle cx="354.6" cy="438.4" r="1.9"/><circle cx="350.6" cy="441.3" r="2.3"/><circle cx="337.2" cy="482.3" r="2.9"/><circle cx="321.6" cy="471.3" r="2.5"/><circle cx="348" cy="478.7" r="1.7"/><circle cx="319.7" cy="453.3" r="3"/><circle cx="356.3" cy="463.2" r="2.6"/><circle cx="334.4" cy="469.4" r="2.7"/><circle cx="333.7" cy="474.8" r="2"/><circle cx="348.8" cy="451.7" r="2"/><circle cx="334.6" cy="460" r="2.3"/><circle cx="338.5" cy="451.2" r="2.4"/><circle cx="357.1" cy="477.2" r="2.6"/><circle cx="325" cy="451.5" r="1.6"/><circle cx="358.6" cy="436.6" r="2.5"/><circle cx="350" cy="430.6" r="2"/><circle cx="312.9" cy="464.4" r="2.2"/><circle cx="339.7" cy="467.9" r="2.7"/><circle cx="323.8" cy="463.6" r="2.3"/><circle cx="322.5" cy="461.4" r="2.6"/><circle cx="344" cy="439.7" r="2.4"/><circle cx="358" cy="441.1" r="3.1"/><circle cx="360" cy="453.2" r="2.1"/><circle cx="350.1" cy="467.5" r="1.6"/><circle cx="342.2" cy="437.9" r="2.9"/><circle cx="338" cy="459.5" r="2.1"/><circle cx="355.4" cy="474.2" r="1.6"/><circle cx="357.2" cy="430.9" r="2.5"/><circle cx="358.2" cy="441.6" r="3"/><circle cx="355.5" cy="447.8" r="2.7"/><circle cx="345.8" cy="478.1" r="2.2"/><circle cx="337.2" cy="463.1" r="2.4"/><circle cx="329.1" cy="427.9" r="1.6"/><circle cx="326" cy="451.3" r="2"/><circle cx="324.3" cy="453.8" r="1.8"/><circle cx="360.3" cy="454.3" r="2.4"/><circle cx="364" cy="447.2" r="3"/><circle cx="347.5" cy="454.5" r="3"/><circle cx="354.8" cy="444" r="2.2"/><circle cx="351.1" cy="432.6" r="1.8"/><circle cx="340.9" cy="467.6" r="2.5"/></g>
<circle cx="344.1" cy="473.7" r="2.8" fill="#f8c2ba"/><circle cx="334" cy="438.5" r="2.4" fill="#f9cac2"/><circle cx="321.4" cy="486.1" r="2.7" fill="#f09c97"/><circle cx="343.8" cy="452.6" r="1.7" fill="#f4aaa3"/><circle cx="322.1" cy="489.3" r="2.4" fill="#f9cac2"/><circle cx="315" cy="489.8" r="1.8" fill="#fcdad3"/><circle cx="347.7" cy="445" r="2" fill="#ec8e8c"/><circle cx="334.7" cy="443.4" r="2.3" fill="#f09c97"/><circle cx="355" cy="447" r="2.4" fill="#f4aaa3"/><circle cx="332.9" cy="471.3" r="2.5" fill="#f9cac2"/><circle cx="357.1" cy="453.8" r="2.3" fill="#f8c2ba"/><circle cx="319.6" cy="453.9" r="2.4" fill="#f5b2aa"/><circle cx="325.5" cy="464.4" r="3" fill="#f5b2aa"/><circle cx="321.2" cy="470.9" r="1.6" fill="#f5b2aa"/><circle cx="323.2" cy="477.7" r="2.5" fill="#ec8e8c"/><circle cx="338.2" cy="449.8" r="1.9" fill="#f5b2aa"/><circle cx="357.5" cy="453.4" r="2.2" fill="#f4aaa3"/><circle cx="355.9" cy="444.7" r="1.8" fill="#f09c97"/><circle cx="344.6" cy="476.9" r="1.7" fill="#fcdad3"/><circle cx="330.8" cy="431" r="3" fill="#f09c97"/><circle cx="335.2" cy="472.8" r="2.3" fill="#ec8e8c"/><circle cx="334" cy="485" r="1.7" fill="#f8c2ba"/><circle cx="326.8" cy="476.8" r="2.7" fill="#f4aaa3"/><circle cx="353.1" cy="446.8" r="2.6" fill="#ec8e8c"/><circle cx="358.1" cy="439.8" r="3.1" fill="#ec8e8c"/><circle cx="314.8" cy="481.5" r="2.3" fill="#ec8e8c"/><circle cx="322.1" cy="456.5" r="2.6" fill="#f5b2aa"/><circle cx="326" cy="466.7" r="2.7" fill="#fcdad3"/><circle cx="326.1" cy="480.8" r="2.9" fill="#f4aaa3"/><circle cx="337.2" cy="458.6" r="1.8" fill="#f5b2aa"/><circle cx="348.6" cy="472.1" r="2.7" fill="#f09c97"/><circle cx="337.1" cy="487.5" r="2" fill="#f8c2ba"/><circle cx="354.1" cy="466.2" r="2.7" fill="#f4aaa3"/><circle cx="315.9" cy="462.6" r="2.5" fill="#f09c97"/><circle cx="317.5" cy="469.7" r="2.5" fill="#f4aaa3"/><circle cx="313.9" cy="484.3" r="1.7" fill="#f09c97"/><circle cx="334.9" cy="459.9" r="2.2" fill="#f5b2aa"/><circle cx="328.1" cy="464.4" r="2.4" fill="#f9cac2"/><circle cx="350.4" cy="447.6" r="2.1" fill="#ec8e8c"/><circle cx="348.5" cy="459.9" r="3" fill="#f8c2ba"/><circle cx="357" cy="450.8" r="2.8" fill="#f8c2ba"/><circle cx="342.3" cy="461" r="3" fill="#f09c97"/><circle cx="310.1" cy="461.2" r="2.5" fill="#f09c97"/><circle cx="324.5" cy="483.2" r="2.4" fill="#fcdad3"/><circle cx="331.5" cy="437.1" r="2" fill="#fcdad3"/><circle cx="328.3" cy="481.7" r="1.8" fill="#ec8e8c"/><circle cx="351.9" cy="442.4" r="1.9" fill="#f4aaa3"/><circle cx="335.5" cy="441.3" r="2.3" fill="#f7bab2"/><circle cx="334.7" cy="460.8" r="1.9" fill="#f4aaa3"/><circle cx="354.6" cy="438.4" r="1.9" fill="#f09c97"/><circle cx="350.6" cy="441.3" r="2.3" fill="#f4aaa3"/><circle cx="337.2" cy="482.3" r="2.9" fill="#f7bab2"/><circle cx="321.6" cy="471.3" r="2.5" fill="#f8c2ba"/><circle cx="348" cy="478.7" r="1.7" fill="#f4aaa3"/><circle cx="319.7" cy="453.3" r="3" fill="#f8c2ba"/><circle cx="356.3" cy="463.2" r="2.6" fill="#f4aaa3"/><circle cx="334.4" cy="469.4" r="2.7" fill="#ec8e8c"/><circle cx="333.7" cy="474.8" r="2" fill="#f4aaa3"/><circle cx="348.8" cy="451.7" r="2" fill="#f4aaa3"/><circle cx="334.6" cy="460" r="2.3" fill="#f5b2aa"/><circle cx="338.5" cy="451.2" r="2.4" fill="#f4aaa3"/><circle cx="357.1" cy="477.2" r="2.6" fill="#f4aaa3"/><circle cx="325" cy="451.5" r="1.6" fill="#fcdad3"/><circle cx="358.6" cy="436.6" r="2.5" fill="#f7bab2"/><circle cx="350" cy="430.6" r="2" fill="#f4aaa3"/><circle cx="312.9" cy="464.4" r="2.2" fill="#f09c97"/><circle cx="339.7" cy="467.9" r="2.7" fill="#ec8e8c"/><circle cx="323.8" cy="463.6" r="2.3" fill="#f5b2aa"/><circle cx="322.5" cy="461.4" r="2.6" fill="#ec8e8c"/><circle cx="344" cy="439.7" r="2.4" fill="#ec8e8c"/><circle cx="358" cy="441.1" r="3.1" fill="#f9cac2"/><circle cx="360" cy="453.2" r="2.1" fill="#f09c97"/><circle cx="350.1" cy="467.5" r="1.6" fill="#f4aaa3"/><circle cx="342.2" cy="437.9" r="2.9" fill="#f4aaa3"/><circle cx="338" cy="459.5" r="2.1" fill="#f09c97"/><circle cx="355.4" cy="474.2" r="1.6" fill="#f4aaa3"/><circle cx="357.2" cy="430.9" r="2.5" fill="#f5b2aa"/><circle cx="358.2" cy="441.6" r="3" fill="#f5b2aa"/><circle cx="355.5" cy="447.8" r="2.7" fill="#f5b2aa"/><circle cx="345.8" cy="478.1" r="2.2" fill="#f5b2aa"/><circle cx="337.2" cy="463.1" r="2.4" fill="#f09c97"/><circle cx="329.1" cy="427.9" r="1.6" fill="#f9cac2"/><circle cx="326" cy="451.3" r="2" fill="#fcdad3"/><circle cx="324.3" cy="453.8" r="1.8" fill="#f09c97"/><circle cx="360.3" cy="454.3" r="2.4" fill="#f7bab2"/><circle cx="364" cy="447.2" r="3" fill="#f4aaa3"/><circle cx="347.5" cy="454.5" r="3" fill="#f7bab2"/><circle cx="354.8" cy="444" r="2.2" fill="#f9cac2"/><circle cx="351.1" cy="432.6" r="1.8" fill="#f4aaa3"/><circle cx="340.9" cy="467.6" r="2.5" fill="#f5b2aa"/><circle cx="347.9" cy="434.1" r="2.1" fill="#f7bab2"/><circle cx="351.3" cy="472" r="1.8" fill="#f9cac2"/><circle cx="350.9" cy="440.2" r="2.2" fill="#f4aaa3"/><circle cx="354.4" cy="450.1" r="1.6" fill="#f8c2ba"/><circle cx="350.3" cy="437.8" r="2.8" fill="#f7bab2"/><circle cx="314.8" cy="457.1" r="2.1" fill="#f8c2ba"/><circle cx="318.4" cy="486.8" r="2.8" fill="#f7bab2"/><circle cx="338.8" cy="486.4" r="2.5" fill="#f9cac2"/><circle cx="344.2" cy="452.3" r="2.1" fill="#fcdad3"/><circle cx="344.3" cy="472.5" r="3" fill="#ec8e8c"/><circle cx="354.5" cy="439.7" r="2.1" fill="#f09c97"/><circle cx="331.3" cy="462" r="1.9" fill="#f4aaa3"/><circle cx="335.5" cy="438.7" r="2.6" fill="#ec8e8c"/><circle cx="307.7" cy="475.6" r="2.1" fill="#f8c2ba"/><circle cx="348.4" cy="476.5" r="1.5" fill="#f4aaa3"/><circle cx="349.3" cy="440" r="2.8" fill="#fcdad3"/><circle cx="357.5" cy="452" r="1.9" fill="#f4aaa3"/><circle cx="357.6" cy="472.6" r="1.7" fill="#f8c2ba"/><circle cx="343" cy="465.8" r="1.7" fill="#fcdad3"/><circle cx="355.5" cy="429.4" r="2" fill="#f9cac2"/><circle cx="333.4" cy="451.8" r="2.2" fill="#f09c97"/><circle cx="356.7" cy="450.8" r="1.6" fill="#f4aaa3"/><circle cx="334.8" cy="483.6" r="2.1" fill="#f9cac2"/><circle cx="316.3" cy="479.3" r="2" fill="#f8c2ba"/><circle cx="326.6" cy="474.3" r="1.9" fill="#f5b2aa"/><circle cx="356.4" cy="478.8" r="2.6" fill="#f4aaa3"/><circle cx="343.8" cy="449.5" r="1.7" fill="#f9cac2"/><circle cx="316.2" cy="477.6" r="2" fill="#f4aaa3"/><circle cx="360" cy="465.2" r="2.8" fill="#fcdad3"/><circle cx="348.5" cy="428.4" r="2.5" fill="#f09c97"/><circle cx="347.7" cy="464.3" r="2.3" fill="#f8c2ba"/><circle cx="334.4" cy="470.9" r="2.1" fill="#f8c2ba"/><circle cx="347.2" cy="459.1" r="2.8" fill="#f5b2aa"/><circle cx="353.8" cy="435.7" r="2" fill="#f4aaa3"/><circle cx="341.3" cy="474.9" r="2.6" fill="#ec8e8c"/><circle cx="326.2" cy="477.9" r="3" fill="#f8c2ba"/><circle cx="316.8" cy="457.7" r="2.9" fill="#f9cac2"/><circle cx="325.6" cy="476.8" r="2.2" fill="#f4aaa3"/><circle cx="347.3" cy="447.8" r="2.7" fill="#f8c2ba"/><circle cx="343.5" cy="448.5" r="1.7" fill="#f8c2ba"/><circle cx="322.4" cy="477.6" r="2.8" fill="#f7bab2"/><circle cx="344.8" cy="475.4" r="1.9" fill="#f7bab2"/><circle cx="340.6" cy="465.5" r="2.5" fill="#f8c2ba"/><circle cx="351.1" cy="450.6" r="2.2" fill="#f8c2ba"/><circle cx="342.4" cy="438.3" r="2.2" fill="#f7bab2"/><circle cx="310.6" cy="460.9" r="2.5" fill="#f09c97"/><circle cx="331.6" cy="444.2" r="1.7" fill="#f5b2aa"/><circle cx="351.1" cy="425.4" r="2.3" fill="#f8c2ba"/><circle cx="359.1" cy="466.8" r="3" fill="#f9cac2"/><circle cx="355.7" cy="480.6" r="1.5" fill="#f09c97"/><circle cx="327.3" cy="475" r="2.4" fill="#f4aaa3"/><circle cx="351.6" cy="479" r="2.8" fill="#f8c2ba"/><circle cx="333.3" cy="469.3" r="2.7" fill="#f7bab2"/><circle cx="319.2" cy="487.8" r="2.2" fill="#f4aaa3"/><circle cx="310.8" cy="463.4" r="2.1" fill="#f4aaa3"/><circle cx="353.1" cy="472.2" r="2" fill="#f7bab2"/><circle cx="352.6" cy="434.9" r="2" fill="#f09c97"/><circle cx="322.2" cy="456.4" r="2.6" fill="#f7bab2"/><circle cx="325.2" cy="481.2" r="2.3" fill="#f4aaa3"/><circle cx="320.9" cy="472.1" r="1.7" fill="#f7bab2"/><circle cx="339.5" cy="451.7" r="1.8" fill="#fcdad3"/><circle cx="359.5" cy="438.4" r="2.2" fill="#f09c97"/><circle cx="353.6" cy="446.6" r="1.5" fill="#ec8e8c"/><circle cx="342.5" cy="480.6" r="2.3" fill="#f4aaa3"/><circle cx="354.4" cy="451.9" r="2.4" fill="#f4aaa3"/><circle cx="350.7" cy="478.7" r="2.8" fill="#fcdad3"/><circle cx="363.4" cy="447.9" r="3.1" fill="#f09c97"/><circle cx="354.5" cy="451" r="3.1" fill="#f5b2aa"/><circle cx="320.9" cy="454.4" r="2" fill="#f7bab2"/><circle cx="353.8" cy="474.8" r="1.6" fill="#fcdad3"/><circle cx="312.9" cy="467" r="2.7" fill="#f4aaa3"/><circle cx="331.3" cy="439.9" r="2.7" fill="#f5b2aa"/><circle cx="322.4" cy="484.6" r="2.9" fill="#f8c2ba"/><circle cx="345.5" cy="447.6" r="2.1" fill="#f4aaa3"/><circle cx="339.1" cy="452.5" r="2.9" fill="#f09c97"/><circle cx="320.4" cy="459.7" r="2.7" fill="#f09c97"/><circle cx="318.7" cy="468.2" r="1.6" fill="#f4aaa3"/><circle cx="353.9" cy="450.7" r="2.3" fill="#f9cac2"/><circle cx="328.4" cy="445.5" r="1.5" fill="#ec8e8c"/><circle cx="332" cy="428.3" r="1.7" fill="#f5b2aa"/><circle cx="341.5" cy="463.2" r="2.1" fill="#fcdad3"/><circle cx="332.6" cy="473.3" r="2.3" fill="#fcdad3"/><circle cx="357" cy="447.5" r="2.2" fill="#f4aaa3"/><circle cx="326.2" cy="456.1" r="2.4" fill="#f9cac2"/><circle cx="352" cy="429.3" r="2.9" fill="#f5b2aa"/><circle cx="321.2" cy="476.6" r="2.7" fill="#ec8e8c"/><circle cx="355.1" cy="470.8" r="2.4" fill="#f4aaa3"/><circle cx="342.2" cy="461.2" r="2.9" fill="#f5b2aa"/><circle cx="335.6" cy="482.9" r="1.6" fill="#fcdad3"/><circle cx="310.8" cy="472.2" r="2.5" fill="#f9cac2"/><circle cx="338.4" cy="470.4" r="2.6" fill="#f7bab2"/><circle cx="323.1" cy="458.2" r="2.4" fill="#f7bab2"/><circle cx="323.2" cy="453.2" r="2" fill="#f5b2aa"/><circle cx="337" cy="485" r="2.2" fill="#f09c97"/><circle cx="323.8" cy="464.4" r="2.2" fill="#f09c97"/><circle cx="331.1" cy="465.1" r="2.5" fill="#f09c97"/><circle cx="316" cy="486" r="1.8" fill="#f8c2ba"/><circle cx="332.5" cy="461.7" r="3" fill="#f09c97"/><circle cx="331.6" cy="461" r="2.3" fill="#f9cac2"/><circle cx="339.6" cy="468" r="2.2" fill="#ec8e8c"/><circle cx="358.2" cy="441.8" r="1.7" fill="#ec8e8c"/><circle cx="331.1" cy="481.1" r="2.3" fill="#f4aaa3"/><circle cx="344.5" cy="466.5" r="3" fill="#f7bab2"/><circle cx="348.5" cy="428.8" r="1.7" fill="#ec8e8c"/><circle cx="358.7" cy="462.4" r="1.6" fill="#f8c2ba"/><circle cx="328.4" cy="466.2" r="2.7" fill="#ec8e8c"/><circle cx="309.6" cy="481.9" r="2.9" fill="#ec8e8c"/><circle cx="330.1" cy="482.7" r="1.6" fill="#ec8e8c"/><circle cx="309.2" cy="473.3" r="3" fill="#fcdad3"/><circle cx="353.7" cy="429.2" r="2.4" fill="#f7bab2"/><circle cx="346.2" cy="468.1" r="2.1" fill="#f7bab2"/><circle cx="321" cy="460.1" r="3.1" fill="#fcdad3"/><circle cx="346.3" cy="433.8" r="1.8" fill="#f8c2ba"/><circle cx="359.5" cy="466.5" r="2" fill="#f8c2ba"/><circle cx="336" cy="441.2" r="2.7" fill="#ec8e8c"/><circle cx="333.1" cy="449.7" r="2.6" fill="#f7bab2"/><circle cx="348.9" cy="472.8" r="1.7" fill="#f9cac2"/><circle cx="343.9" cy="481.9" r="1.8" fill="#f4aaa3"/><circle cx="309.9" cy="462.2" r="1.9" fill="#f5b2aa"/><circle cx="349" cy="459.5" r="2.4" fill="#f9cac2"/><circle cx="353.4" cy="444.9" r="2.4" fill="#f4aaa3"/><circle cx="360.7" cy="458" r="2.5" fill="#f5b2aa"/><circle cx="327.4" cy="475.9" r="2" fill="#f9cac2"/><circle cx="353" cy="472.7" r="1.5" fill="#f09c97"/><circle cx="323.6" cy="481.6" r="2.6" fill="#fcdad3"/><circle cx="357.2" cy="463" r="2.2" fill="#f8c2ba"/><circle cx="336.3" cy="471.5" r="2.5" fill="#f4aaa3"/><circle cx="353.9" cy="480.4" r="1.6" fill="#f8c2ba"/><circle cx="351.6" cy="433" r="1.8" fill="#f8c2ba"/><circle cx="318.7" cy="479.9" r="2.5" fill="#fcdad3"/><circle cx="330.6" cy="482.3" r="2.5" fill="#f4aaa3"/><circle cx="327.6" cy="462.3" r="1.9" fill="#f7bab2"/><circle cx="327.6" cy="463.4" r="2.7" fill="#f4aaa3"/><circle cx="354.8" cy="472.6" r="2.9" fill="#f8c2ba"/><circle cx="358.5" cy="431.5" r="1.6" fill="#f4aaa3"/><circle cx="314.4" cy="484.1" r="2.9" fill="#f4aaa3"/><circle cx="334.5" cy="458" r="1.5" fill="#f4aaa3"/><circle cx="358.1" cy="464.6" r="2.6" fill="#f9cac2"/><circle cx="322.8" cy="472.7" r="2.1" fill="#f09c97"/><circle cx="353.9" cy="429.1" r="2.1" fill="#f9cac2"/><circle cx="332.8" cy="450" r="1.5" fill="#f4aaa3"/><circle cx="348.4" cy="480.5" r="1.9" fill="#f7bab2"/><circle cx="355.3" cy="450.5" r="2.6" fill="#f8c2ba"/><circle cx="361.3" cy="471.7" r="2.2" fill="#f9cac2"/><circle cx="316.4" cy="462.3" r="2.6" fill="#f4aaa3"/><circle cx="315.7" cy="458.9" r="2.8" fill="#f5b2aa"/><circle cx="344.8" cy="471.3" r="2.2" fill="#f09c97"/><circle cx="344.4" cy="433.9" r="2.4" fill="#fcdad3"/><circle cx="349.3" cy="454.1" r="2.8" fill="#f5b2aa"/><circle cx="335.2" cy="447.1" r="3.1" fill="#f5b2aa"/><circle cx="353" cy="454.9" r="2.8" fill="#f4aaa3"/><circle cx="361.5" cy="444.4" r="3.1" fill="#fcdad3"/><circle cx="332.1" cy="479.4" r="1.9" fill="#ec8e8c"/><circle cx="354.2" cy="455.4" r="1.6" fill="#f5b2aa"/><circle cx="309.2" cy="472.8" r="2.2" fill="#f5b2aa"/><circle cx="326.1" cy="475.6" r="1.6" fill="#f7bab2"/><circle cx="348" cy="427" r="2.3" fill="#f4aaa3"/><circle cx="331" cy="464.7" r="2.4" fill="#f8c2ba"/><circle cx="348" cy="453.8" r="1.7" fill="#f4aaa3"/><circle cx="324.7" cy="469.7" r="2.2" fill="#f4aaa3"/><circle cx="342.3" cy="484.2" r="2" fill="#f4aaa3"/><circle cx="357.3" cy="456.7" r="2.1" fill="#f8c2ba"/><circle cx="361.3" cy="450.3" r="1.8" fill="#fcdad3"/><circle cx="330.8" cy="487.7" r="1.7" fill="#f4aaa3"/><circle cx="332.4" cy="473.1" r="1.6" fill="#f7bab2"/><circle cx="341.9" cy="470.7" r="1.6" fill="#f7bab2"/><circle cx="331.5" cy="437.5" r="2.2" fill="#ec8e8c"/><circle cx="348.8" cy="457.2" r="2.9" fill="#f4aaa3"/><circle cx="343.9" cy="481.2" r="1.8" fill="#f4aaa3"/><circle cx="321" cy="486.4" r="2" fill="#f7bab2"/><circle cx="308.6" cy="472.3" r="1.8" fill="#f8c2ba"/><circle cx="307.7" cy="468" r="2.1" fill="#fcdad3"/><circle cx="307.9" cy="466.1" r="2.8" fill="#f8c2ba"/><circle cx="308.7" cy="463.3" r="2.7" fill="#fcdad3"/><circle cx="309.6" cy="462.9" r="2.3" fill="#f7bab2"/><circle cx="310.9" cy="459.4" r="2.4" fill="#f09c97"/><circle cx="312.1" cy="457.5" r="1.6" fill="#f4aaa3"/><circle cx="313.3" cy="456.5" r="2.9" fill="#f5b2aa"/><circle cx="315.5" cy="455" r="1.8" fill="#f9cac2"/><circle cx="317.7" cy="454" r="2.8" fill="#f7bab2"/><circle cx="321.5" cy="453" r="2.8" fill="#f5b2aa"/><circle cx="322" cy="450.7" r="2" fill="#f7bab2"/><circle cx="323.2" cy="451.9" r="2.7" fill="#ec8e8c"/><circle cx="325.1" cy="447.8" r="2.6" fill="#f8c2ba"/><circle cx="327.4" cy="446.2" r="2.2" fill="#ec8e8c"/><circle cx="327.5" cy="445.9" r="2.8" fill="#f5b2aa"/><circle cx="331" cy="442.1" r="2.7" fill="#f4aaa3"/><circle cx="329.2" cy="439.2" r="2" fill="#f9cac2"/><circle cx="330" cy="436.1" r="1.8" fill="#f4aaa3"/><circle cx="328.4" cy="435.9" r="2.3" fill="#f7bab2"/><circle cx="328" cy="433.8" r="2.4" fill="#ec8e8c"/><circle cx="325.8" cy="429.6" r="1.8" fill="#f4aaa3"/><circle cx="326.9" cy="427.9" r="1.9" fill="#f09c97"/><circle cx="330.8" cy="427.7" r="2.5" fill="#f5b2aa"/><circle cx="333.3" cy="429.3" r="1.6" fill="#f4aaa3"/><circle cx="334.8" cy="430.5" r="2" fill="#ec8e8c"/><circle cx="337.4" cy="433.8" r="2" fill="#f9cac2"/><circle cx="337.5" cy="434.6" r="1.7" fill="#f4aaa3"/><circle cx="339.5" cy="435.7" r="1.9" fill="#f09c97"/><circle cx="342" cy="434.5" r="2.4" fill="#ec8e8c"/><circle cx="343.5" cy="431.2" r="1.9" fill="#ec8e8c"/><circle cx="343.3" cy="430.5" r="1.7" fill="#fcdad3"/><circle cx="343" cy="428.6" r="2.5" fill="#f4aaa3"/><circle cx="344.8" cy="426.8" r="2.1" fill="#f4aaa3"/><circle cx="347.1" cy="424.6" r="2.3" fill="#f09c97"/><circle cx="349.4" cy="424.7" r="2.5" fill="#fcdad3"/><circle cx="353.6" cy="426.6" r="1.9" fill="#f4aaa3"/><circle cx="355.8" cy="426.9" r="2.2" fill="#f09c97"/><circle cx="357.9" cy="431.5" r="2.2" fill="#f9cac2"/><circle cx="358.6" cy="433.8" r="2.8" fill="#f7bab2"/><circle cx="358.9" cy="433.5" r="2.4" fill="#f4aaa3"/><circle cx="359.1" cy="437.6" r="2.4" fill="#f09c97"/><circle cx="362.2" cy="440.7" r="1.7" fill="#fcdad3"/><circle cx="361.4" cy="440" r="1.6" fill="#fcdad3"/><circle cx="364.2" cy="443.4" r="2.7" fill="#f9cac2"/><circle cx="364.6" cy="446.2" r="2.5" fill="#f8c2ba"/><circle cx="365.4" cy="447.3" r="1.6" fill="#f4aaa3"/><circle cx="365" cy="448.5" r="2.9" fill="#f9cac2"/><circle cx="362.8" cy="453.4" r="2.3" fill="#f4aaa3"/><circle cx="362.3" cy="453.4" r="2.2" fill="#f5b2aa"/><circle cx="360.2" cy="455.9" r="2.6" fill="#f5b2aa"/><circle cx="362.2" cy="459.8" r="2.3" fill="#ec8e8c"/><circle cx="361.1" cy="461.1" r="1.8" fill="#f7bab2"/><circle cx="360.6" cy="463.4" r="2.8" fill="#f9cac2"/><circle cx="362.5" cy="466.4" r="2.8" fill="#fcdad3"/><circle cx="360.9" cy="471.2" r="2.3" fill="#fcdad3"/><circle cx="361.8" cy="472.3" r="2" fill="#f4aaa3"/><circle cx="361.1" cy="474.6" r="2.1" fill="#f8c2ba"/><circle cx="357.9" cy="477.6" r="2.9" fill="#f4aaa3"/><circle cx="357.2" cy="480" r="2.2" fill="#ec8e8c"/><circle cx="354.9" cy="481.7" r="1.7" fill="#f9cac2"/><circle cx="353.7" cy="481.4" r="1.8" fill="#f4aaa3"/><circle cx="351.6" cy="481.7" r="1.6" fill="#f7bab2"/><circle cx="349.6" cy="484.7" r="2.2" fill="#f8c2ba"/><circle cx="348.1" cy="484.2" r="1.9" fill="#f4aaa3"/><circle cx="345" cy="484.5" r="2.8" fill="#f8c2ba"/><circle cx="344.9" cy="485.1" r="2.8" fill="#f4aaa3"/><circle cx="340.4" cy="486.8" r="2.7" fill="#f09c97"/><circle cx="339.6" cy="486.2" r="2.3" fill="#f09c97"/><circle cx="339.2" cy="489" r="2.4" fill="#f09c97"/><circle cx="334.7" cy="488.2" r="1.7" fill="#f4aaa3"/><circle cx="334.8" cy="488.6" r="2.8" fill="#f9cac2"/><circle cx="331.5" cy="489.8" r="2.8" fill="#f8c2ba"/><circle cx="329.5" cy="489.6" r="1.8" fill="#f9cac2"/><circle cx="326.3" cy="490.2" r="2.1" fill="#f9cac2"/><circle cx="324.1" cy="491" r="1.6" fill="#f4aaa3"/><circle cx="321.5" cy="490.6" r="2.6" fill="#f4aaa3"/><circle cx="317.4" cy="491.2" r="2.1" fill="#fcdad3"/><circle cx="316.1" cy="491.1" r="2.8" fill="#f5b2aa"/><circle cx="314.3" cy="490.5" r="2" fill="#f5b2aa"/><circle cx="313.9" cy="488.7" r="1.7" fill="#f4aaa3"/><circle cx="309.9" cy="485.3" r="2.9" fill="#f7bab2"/><circle cx="309.5" cy="483.4" r="2.2" fill="#f09c97"/><circle cx="309" cy="480.7" r="2.6" fill="#f4aaa3"/><circle cx="308.3" cy="476.8" r="2.1" fill="#f09c97"/><circle cx="308.2" cy="475.9" r="2.5" fill="#f4aaa3"/><circle cx="308.4" cy="472.5" r="2.8" fill="#f7bab2"/>
<circle cx="345.9" cy="442.3" r="1.3" fill="#b8505c" opacity=".4"/>
<circle cx="317.9" cy="462.5" r="1.1" fill="#b8505c" opacity=".4"/>
<circle cx="323.5" cy="479.8" r="1.1" fill="#b8505c" opacity=".4"/>
<circle cx="346.3" cy="437.8" r="1.2" fill="#b8505c" opacity=".4"/>
<circle cx="323.5" cy="464.6" r="1.1" fill="#b8505c" opacity=".4"/>
<circle cx="325.8" cy="484.8" r="1.1" fill="#b8505c" opacity=".4"/>
<circle cx="333.4" cy="461.5" r="1.1" fill="#b8505c" opacity=".4"/>
<circle cx="313.9" cy="462.6" r="1.1" fill="#b8505c" opacity=".4"/>
<circle cx="360.8" cy="464.8" r="1.2" fill="#b8505c" opacity=".4"/>
<circle cx="330.8" cy="456.4" r="0.9" fill="#b8505c" opacity=".4"/>
<circle cx="349" cy="462.2" r="0.8" fill="#b8505c" opacity=".4"/>
<circle cx="359.6" cy="459.5" r="1.1" fill="#b8505c" opacity=".4"/>
<circle cx="337.6" cy="463" r="1" fill="#b8505c" opacity=".4"/>
<circle cx="347.5" cy="449.6" r="0.8" fill="#b8505c" opacity=".4"/>
<circle cx="352" cy="471.9" r="1.2" fill="#b8505c" opacity=".4"/>
<circle cx="349" cy="442.1" r="1.1" fill="#b8505c" opacity=".4"/>
<circle cx="345.6" cy="445.3" r="0.7" fill="#b8505c" opacity=".4"/>
<circle cx="339.9" cy="474.3" r="1.1" fill="#b8505c" opacity=".4"/>
<circle cx="361.2" cy="442.8" r="1.1" fill="#b8505c" opacity=".4"/>
<circle cx="331.5" cy="462.5" r="0.9" fill="#b8505c" opacity=".4"/>
<circle cx="320.4" cy="460.7" r="1.1" fill="#b8505c" opacity=".4"/>
</g>
<circle cx="292" cy="480" r="2.2" fill="none" stroke="#d8f2f0" stroke-width="1" opacity=".8"/>
</g>
<use href="#bt1" transform="translate(70.3 375.2) scale(1 0.9915)" fill="none" stroke="#3f4b50" stroke-width="1.15" opacity=".9"/>
<g clip-path="url(#c2)">
<rect x="68" y="502.6" width="360" height="122.6" fill="#eeeeec"/>
<rect x="68" y="502.6" width="360" height="122.6" filter="url(#t2a)" opacity="0.9"/>
<rect x="68" y="502.6" width="360" height="122.6" filter="url(#t2b)" opacity="0.28"/>
<line x1="66" y1="531.4" x2="430" y2="531.4" stroke="#fbfbfa" stroke-width="1.3" opacity="0.9"/>
<line x1="66" y1="532.8" x2="430" y2="532.8" stroke="#9b9b99" stroke-width="1.5" opacity="1"/>
<line x1="66" y1="534.1" x2="430" y2="534.1" stroke="#d4d4d2" stroke-width="1.0" opacity="0.8"/>
<line x1="66" y1="562.6" x2="430" y2="562.6" stroke="#fbfbfa" stroke-width="1.3" opacity="0.9"/>
<line x1="66" y1="564" x2="430" y2="564" stroke="#9b9b99" stroke-width="1.5" opacity="1"/>
<line x1="66" y1="565.3" x2="430" y2="565.3" stroke="#d4d4d2" stroke-width="1.0" opacity="0.8"/>
<line x1="66" y1="593.4" x2="430" y2="593.4" stroke="#fbfbfa" stroke-width="1.3" opacity="0.9"/>
<line x1="66" y1="594.8" x2="430" y2="594.8" stroke="#9b9b99" stroke-width="1.5" opacity="1"/>
<line x1="66" y1="596.1" x2="430" y2="596.1" stroke="#d4d4d2" stroke-width="1.0" opacity="0.8"/>
<text x="167.6" y="582.8" font-size="62" fill="#1b6379" stroke="#1b6379" stroke-width=".8" filter="url(#halo)" textLength="149.5" lengthAdjust="spacingAndGlyphs">Is My</text>
<g transform="translate(1.0 1.5)" fill="none" stroke="#9c9290" opacity="0.85" stroke-linecap="round" filter="url(#soft)"><line x1="347.5" y1="542.5" x2="359.9" y2="542.5" stroke-width="2.3"/><line x1="364.9" y1="542.5" x2="376.4" y2="542.5" stroke-width="3.4"/><line x1="343.8" y1="551.4" x2="352.6" y2="560.2" stroke-width="2.3"/><line x1="356.1" y1="563.7" x2="364.2" y2="571.8" stroke-width="3.4"/><line x1="334.9" y1="555.1" x2="334.9" y2="567.5" stroke-width="2.3"/><line x1="334.9" y1="572.5" x2="334.9" y2="584" stroke-width="3.4"/><line x1="326" y1="551.4" x2="317.2" y2="560.2" stroke-width="2.3"/><line x1="313.7" y1="563.7" x2="305.6" y2="571.8" stroke-width="3.4"/><line x1="322.3" y1="542.5" x2="309.9" y2="542.5" stroke-width="2.3"/><line x1="304.9" y1="542.5" x2="293.4" y2="542.5" stroke-width="3.4"/><line x1="326" y1="533.6" x2="317.2" y2="524.8" stroke-width="2.3"/><line x1="313.7" y1="521.3" x2="305.6" y2="513.2" stroke-width="3.4"/><line x1="334.9" y1="529.9" x2="334.9" y2="517.5" stroke-width="2.3"/><line x1="334.9" y1="512.5" x2="334.9" y2="501" stroke-width="3.4"/><line x1="343.8" y1="533.6" x2="352.6" y2="524.8" stroke-width="2.3"/><line x1="356.1" y1="521.3" x2="364.2" y2="513.2" stroke-width="3.4"/><circle cx="334.9" cy="542.5" r="27.2" stroke-width="6.3"/><circle cx="334.9" cy="542.5" r="12.6" stroke-width="2.4"/></g>
<g transform="translate(0 0)" fill="none" stroke="#e7e1df" opacity="1" stroke-linecap="round" ><line x1="347.5" y1="542.5" x2="359.9" y2="542.5" stroke-width="2.3"/><line x1="364.9" y1="542.5" x2="376.4" y2="542.5" stroke-width="3.4"/><line x1="343.8" y1="551.4" x2="352.6" y2="560.2" stroke-width="2.3"/><line x1="356.1" y1="563.7" x2="364.2" y2="571.8" stroke-width="3.4"/><line x1="334.9" y1="555.1" x2="334.9" y2="567.5" stroke-width="2.3"/><line x1="334.9" y1="572.5" x2="334.9" y2="584" stroke-width="3.4"/><line x1="326" y1="551.4" x2="317.2" y2="560.2" stroke-width="2.3"/><line x1="313.7" y1="563.7" x2="305.6" y2="571.8" stroke-width="3.4"/><line x1="322.3" y1="542.5" x2="309.9" y2="542.5" stroke-width="2.3"/><line x1="304.9" y1="542.5" x2="293.4" y2="542.5" stroke-width="3.4"/><line x1="326" y1="533.6" x2="317.2" y2="524.8" stroke-width="2.3"/><line x1="313.7" y1="521.3" x2="305.6" y2="513.2" stroke-width="3.4"/><line x1="334.9" y1="529.9" x2="334.9" y2="517.5" stroke-width="2.3"/><line x1="334.9" y1="512.5" x2="334.9" y2="501" stroke-width="3.4"/><line x1="343.8" y1="533.6" x2="352.6" y2="524.8" stroke-width="2.3"/><line x1="356.1" y1="521.3" x2="364.2" y2="513.2" stroke-width="3.4"/><circle cx="334.9" cy="542.5" r="27.2" stroke-width="6.3"/><circle cx="334.9" cy="542.5" r="12.6" stroke-width="2.4"/></g>
<circle cx="334.9" cy="542.5" r="27.2" fill="none" stroke="#f6f2f1" stroke-width="2.6" opacity=".8"/>
<circle cx="334.9" cy="542.5" r="24.3" fill="none" stroke="#c4bab8" stroke-width=".8" opacity=".9"/>
<circle cx="334.9" cy="542.5" r="30.2" fill="none" stroke="#c9c0be" stroke-width=".7" opacity=".9"/>
<path d="M108.4 552.2L126.8 552.2L122.3 536.4L130.4 550.7L143.8 537.8L133.6 553.9L146.4 565.2L130.8 558.2L120.8 573.2L126.5 556.3Z" fill="#9a7f66" opacity=".4" filter="url(#soft2)" stroke="#9a7f66" stroke-width="2" stroke-linejoin="round"/>
<path d="M108.4 552.2L125.9 551.1L122.3 536.4L129.5 549.7L143.8 537.8L132.4 552.8L146.4 565.2L129.8 556.6L120.8 573.2L125.8 555.1Z" fill="#eda658" stroke="#eda658" stroke-width="1.7" stroke-linejoin="round"/>
<line x1="128.8" y1="553.2" x2="123.2" y2="538.8" stroke="#b2452a" stroke-width="1.1" stroke-linecap="round" opacity=".9"/>
<line x1="128.8" y1="553.2" x2="141.7" y2="540" stroke="#b2452a" stroke-width="1.1" stroke-linecap="round" opacity=".9"/>
<line x1="128.8" y1="553.2" x2="143.9" y2="563.5" stroke="#b2452a" stroke-width="1.1" stroke-linecap="round" opacity=".9"/>
<line x1="128.8" y1="553.2" x2="121.9" y2="570.4" stroke="#b2452a" stroke-width="1.1" stroke-linecap="round" opacity=".9"/>
<line x1="128.8" y1="553.2" x2="111.3" y2="552.3" stroke="#b2452a" stroke-width="1.1" stroke-linecap="round" opacity=".9"/>
<circle cx="128.8" cy="553.2" r="1.6" fill="#c0392b"/>
<g>
<path d="M221.5 622.5C212 626 196 626 187 622C182 615 182.5 604 188 597C194 589.5 203 586 211 586.6C219 587.2 225 591 227 597C228.5 603 226 607 225 612C224 616 224.5 620 221.5 622.5Z" fill="#8c7a78" opacity=".3" transform="translate(1.5 1.5)" filter="url(#soft2)"/>
<path d="M221.5 622.5C212 626 196 626 187 622C182 615 182.5 604 188 597C194 589.5 203 586 211 586.6C219 587.2 225 591 227 597C228.5 603 226 607 225 612C224 616 224.5 620 221.5 622.5Z" fill="#f0a099"/>
<clipPath id="shc"><path d="M221.5 622.5C212 626 196 626 187 622C182 615 182.5 604 188 597C194 589.5 203 586 211 586.6C219 587.2 225 591 227 597C228.5 603 226 607 225 612C224 616 224.5 620 221.5 622.5Z"/></clipPath>
<g clip-path="url(#shc)" stroke-linecap="round">
<line x1="221.5" y1="622.5" x2="175.9" y2="628.9" stroke="#fac9c0" stroke-width="1.5" opacity=".85"/>
<line x1="221.5" y1="622.5" x2="175.6" y2="625.9" stroke="#e38581" stroke-width="1" opacity=".6"/>
<line x1="221.5" y1="622.5" x2="175.5" y2="622.8" stroke="#fac9c0" stroke-width="1.5" opacity=".85"/>
<line x1="221.5" y1="622.5" x2="175.6" y2="619.8" stroke="#e38581" stroke-width="1" opacity=".6"/>
<line x1="221.5" y1="622.5" x2="175.9" y2="616.7" stroke="#fac9c0" stroke-width="1.5" opacity=".85"/>
<line x1="221.5" y1="622.5" x2="176.3" y2="613.7" stroke="#e38581" stroke-width="1" opacity=".6"/>
<line x1="221.5" y1="622.5" x2="177" y2="610.7" stroke="#fac9c0" stroke-width="1.5" opacity=".85"/>
<line x1="221.5" y1="622.5" x2="177.9" y2="607.8" stroke="#e38581" stroke-width="1" opacity=".6"/>
<line x1="221.5" y1="622.5" x2="179" y2="605" stroke="#fac9c0" stroke-width="1.5" opacity=".85"/>
<line x1="221.5" y1="622.5" x2="180.2" y2="602.2" stroke="#e38581" stroke-width="1" opacity=".6"/>
<line x1="221.5" y1="622.5" x2="181.7" y2="599.5" stroke="#fac9c0" stroke-width="1.5" opacity=".85"/>
<line x1="221.5" y1="622.5" x2="183.3" y2="596.9" stroke="#e38581" stroke-width="1" opacity=".6"/>
<line x1="221.5" y1="622.5" x2="185.1" y2="594.4" stroke="#fac9c0" stroke-width="1.5" opacity=".85"/>
<line x1="221.5" y1="622.5" x2="187" y2="592.1" stroke="#e38581" stroke-width="1" opacity=".6"/>
<line x1="221.5" y1="622.5" x2="189.1" y2="589.9" stroke="#fac9c0" stroke-width="1.5" opacity=".85"/>
<line x1="221.5" y1="622.5" x2="191.3" y2="587.8" stroke="#e38581" stroke-width="1" opacity=".6"/>
<line x1="221.5" y1="622.5" x2="193.7" y2="585.9" stroke="#fac9c0" stroke-width="1.5" opacity=".85"/>
<line x1="221.5" y1="622.5" x2="196.2" y2="584.1" stroke="#e38581" stroke-width="1" opacity=".6"/>
<line x1="221.5" y1="622.5" x2="198.8" y2="582.5" stroke="#fac9c0" stroke-width="1.5" opacity=".85"/>
<line x1="221.5" y1="622.5" x2="201.5" y2="581.1" stroke="#e38581" stroke-width="1" opacity=".6"/>
<line x1="221.5" y1="622.5" x2="204.3" y2="579.8" stroke="#fac9c0" stroke-width="1.5" opacity=".85"/>
<line x1="221.5" y1="622.5" x2="207.1" y2="578.8" stroke="#e38581" stroke-width="1" opacity=".6"/>
<line x1="221.5" y1="622.5" x2="210.1" y2="577.9" stroke="#fac9c0" stroke-width="1.5" opacity=".85"/>
<line x1="221.5" y1="622.5" x2="213" y2="577.3" stroke="#e38581" stroke-width="1" opacity=".6"/>
<line x1="221.5" y1="622.5" x2="216.1" y2="576.8" stroke="#fac9c0" stroke-width="1.5" opacity=".85"/>
<line x1="221.5" y1="622.5" x2="219.1" y2="576.6" stroke="#e38581" stroke-width="1" opacity=".6"/>
<line x1="221.5" y1="622.5" x2="222.1" y2="576.5" stroke="#fac9c0" stroke-width="1.5" opacity=".85"/>
<line x1="221.5" y1="622.5" x2="225.2" y2="576.6" stroke="#e38581" stroke-width="1" opacity=".6"/>
<line x1="221.5" y1="622.5" x2="228.2" y2="577" stroke="#fac9c0" stroke-width="1.5" opacity=".85"/>
<line x1="221.5" y1="622.5" x2="231.2" y2="577.5" stroke="#e38581" stroke-width="1" opacity=".6"/>
</g></g>
</g>
<use href="#bt" transform="translate(70.3 504.6) scale(1 1.0068)" fill="none" stroke="#4d4d4d" stroke-width="1.15" opacity=".9"/>
<g clip-path="url(#c3)">
<rect x="68" y="634.5" width="360" height="122" fill="url(#g3)"/>
<rect x="68" y="634.5" width="360" height="122" filter="url(#t3a)" opacity="1"/>
<rect x="68" y="634.5" width="360" height="122" filter="url(#t3b)" opacity="0.42"/>
<rect x="68" y="634" width="360" height="124" fill="url(#g3w)"/>
<rect x="66" y="688" width="78" height="20" fill="#d6c48c" opacity=".5" filter="url(#soft2)"/>
<rect x="80" y="660" width="90" height="10" fill="#ddd0a4" opacity=".45" filter="url(#soft2)"/>
<rect x="90" y="742" width="90" height="7" fill="#d9cc9c" opacity=".5" filter="url(#soft2)"/>
<line x1="66" y1="673.2" x2="430" y2="673.2" stroke="#8d8672" stroke-width="1.2" opacity="1"/>
<line x1="66" y1="674.4" x2="430" y2="674.4" stroke="#f8f6ee" stroke-width="1.0" opacity="0.6"/>
<line x1="66" y1="706.4" x2="430" y2="706.4" stroke="#8d8672" stroke-width="1.2" opacity="1"/>
<line x1="66" y1="707.6" x2="430" y2="707.6" stroke="#f8f6ee" stroke-width="1.0" opacity="0.6"/>
<line x1="66" y1="739.2" x2="430" y2="739.2" stroke="#8d8672" stroke-width="1.2" opacity="0.9"/>
<line x1="66" y1="740.4" x2="430" y2="740.4" stroke="#f8f6ee" stroke-width="1.0" opacity="0.54"/>
<line x1="66" y1="718.6" x2="270" y2="718.6" stroke="#8d8672" stroke-width="1.1" opacity="0.4"/>
<ellipse cx="391.5" cy="682.7" rx="6.6" ry="4.2" fill="#86684a" filter="url(#soft)"/>
<ellipse cx="391" cy="682.3" rx="4" ry="2.2" fill="#a98254" opacity=".8"/>
<ellipse cx="394" cy="702" rx="3" ry="2.1" fill="#b9b29c" stroke="#4f4a3e" stroke-width="1.3"/>
<ellipse cx="117.3" cy="721.3" rx="3.2" ry="2" fill="#7a6d4c" opacity="0.8"/>
<ellipse cx="115.4" cy="731" rx="2.8" ry="1.8" fill="#6f6443" opacity="0.8"/>
<ellipse cx="175.5" cy="742.3" rx="3.4" ry="1.8" fill="#8a7b55" opacity="0.7"/>
<ellipse cx="150.8" cy="654" rx="1.2" ry="1" fill="#5b5648" opacity="0.8"/>
<ellipse cx="158.3" cy="659" rx="1.4" ry="0.9" fill="#6b6554" opacity="0.7"/>
<ellipse cx="329" cy="733.5" rx="6" ry="2.6" fill="#cbb98e" opacity="0.6"/>
<ellipse cx="300" cy="657" rx="4" ry="2" fill="#d8cfc0" opacity="0.6"/>
<g transform="translate(360 661.5)">
<path d="M-1 0L-8 -4.5L-8.5 3.5Z" fill="#dcc3cb"/>
<path d="M1 0L7.5 -3.5L8.5 4.5L3 5Z" fill="#c6a3b0"/>
<path d="M-1 1L-5.5 9" stroke="#d9cfd0" stroke-width="1.4" fill="none"/>
<circle r="1.5" fill="#cfb0bb"/>
</g>
<g fill="none" stroke-linecap="round" stroke-linejoin="round">
<path d="M221 653.5C226 649.5 233 651 236.5 656C238.5 659.5 238.5 664 239.5 668" stroke="#8a7350" stroke-width="9" opacity=".28" transform="translate(1.2 1.6)" filter="url(#soft2)"/>
<path d="M219.8 661.5L220.5 671.5" stroke="#b7a27c" stroke-width="2.2" opacity=".85"/>
<path d="M240 669C243 674.5 249.5 676 254 678.6C257 680.6 258 683.2 256.8 685.6" stroke="#c19a60" stroke-width="4"/>
<path d="M221 653.5C226 649.5 233 651 236.5 656C238.5 659.5 238.5 664 239.8 668.5" stroke="#c9a468" stroke-width="8.6"/>
<path d="M221 653.5C226 649.5 233 651 236.5 656C238.5 659.5 238.5 664 239.8 668.5" stroke="#96682f" stroke-width="8.6" stroke-dasharray=".8 1.7" stroke-linecap="butt" opacity=".5"/>
<path d="M222 651.5C227 648.5 233.5 650 237 654.5" stroke="#ead8ae" stroke-width="1.6" opacity=".75"/>
<ellipse cx="219.4" cy="655.6" rx="5" ry="5.4" fill="#cdab72" stroke="none"/>
<ellipse cx="218.4" cy="653.6" rx="3" ry="2.4" fill="#e3cfa2" stroke="none" opacity=".7"/>
<circle cx="256.6" cy="685.2" r="2.7" fill="#b39058" stroke="none" opacity=".9"/>
<circle cx="218.9" cy="660.4" r="1.8" fill="#2a1d12" stroke="none"/>
</g>
<path d="M117 686.2L130.3 692.7L136.2 679.6L137.1 694.2L148.8 695.4L138.3 702.1L138 714.2L130.3 705.1L116 708.6L125.9 698.4Z" fill="#a0746a" opacity=".35" filter="url(#soft2)" stroke="#a0746a" stroke-width="3" stroke-linejoin="round"/>
<path d="M117 686.2L129.3 691.3L136.2 679.6L136.2 693.2L148.8 695.4L136.8 700.7L138 714.2L129.5 703.6L116 708.6L124.9 697.3Z" fill="#e8523c" stroke="#e8523c" stroke-width="2.6" stroke-linejoin="round"/>
<circle cx="131.7" cy="694.8" r=".75" fill="#f7a88f" opacity=".9"/>
<circle cx="132.7" cy="692" r=".75" fill="#f7a88f" opacity=".9"/>
<circle cx="133.8" cy="688.5" r=".75" fill="#f7a88f" opacity=".9"/>
<circle cx="133.8" cy="686.6" r=".75" fill="#f7a88f" opacity=".9"/>
<circle cx="134.9" cy="683" r=".75" fill="#f7a88f" opacity=".9"/>
<circle cx="134.5" cy="697.1" r=".75" fill="#f7a88f" opacity=".9"/>
<circle cx="137.1" cy="696.8" r=".75" fill="#f7a88f" opacity=".9"/>
<circle cx="139.7" cy="696" r=".75" fill="#f7a88f" opacity=".9"/>
<circle cx="142.5" cy="696.6" r=".75" fill="#f7a88f" opacity=".9"/>
<circle cx="145.2" cy="696.1" r=".75" fill="#f7a88f" opacity=".9"/>
<circle cx="132.5" cy="699.4" r=".75" fill="#f7a88f" opacity=".9"/>
<circle cx="133.7" cy="702.7" r=".75" fill="#f7a88f" opacity=".9"/>
<circle cx="134.2" cy="704.7" r=".75" fill="#f7a88f" opacity=".9"/>
<circle cx="136" cy="708" r=".75" fill="#f7a88f" opacity=".9"/>
<circle cx="136.9" cy="711.1" r=".75" fill="#f7a88f" opacity=".9"/>
<circle cx="129.3" cy="699.6" r=".75" fill="#f7a88f" opacity=".9"/>
<circle cx="126.4" cy="701.2" r=".75" fill="#f7a88f" opacity=".9"/>
<circle cx="124" cy="703.2" r=".75" fill="#f7a88f" opacity=".9"/>
<circle cx="122.1" cy="704" r=".75" fill="#f7a88f" opacity=".9"/>
<circle cx="118.8" cy="705.9" r=".75" fill="#f7a88f" opacity=".9"/>
<circle cx="129.7" cy="695.6" r=".75" fill="#f7a88f" opacity=".9"/>
<circle cx="127" cy="693.7" r=".75" fill="#f7a88f" opacity=".9"/>
<circle cx="124.6" cy="692" r=".75" fill="#f7a88f" opacity=".9"/>
<circle cx="122.1" cy="690.4" r=".75" fill="#f7a88f" opacity=".9"/>
<circle cx="120.1" cy="689" r=".75" fill="#f7a88f" opacity=".9"/>
</g>
<use href="#bt" transform="translate(70.3 636.5) scale(1 1.0017)" fill="none" stroke="#4d4d4d" stroke-width="1.15" opacity=".9"/>
<g clip-path="url(#c4)">
<rect x="68" y="766" width="360" height="122.7" fill="url(#g4)"/>
<rect x="68" y="766" width="360" height="122.7" filter="url(#t4a)" opacity="0.8"/>
<rect x="68" y="766" width="360" height="122.7" filter="url(#t4b)" opacity="0.6"/>
<line x1="66" y1="791.7" x2="430" y2="791.7" stroke="#1b3270" stroke-width="1.6" opacity="1"/>
<line x1="66" y1="793.1" x2="430" y2="793.1" stroke="#8fbdf0" stroke-width="1.0" opacity="0.5"/>
<line x1="66" y1="851" x2="430" y2="851" stroke="#1b3270" stroke-width="1.6" opacity="1"/>
<line x1="66" y1="852.4" x2="430" y2="852.4" stroke="#8fbdf0" stroke-width="1.0" opacity="0.5"/>
<line x1="66" y1="881.2" x2="430" y2="881.2" stroke="#2c559c" stroke-width="1.0" opacity="0.6"/>
<line x1="66" y1="882.6" x2="430" y2="882.6" stroke="#8fbdf0" stroke-width="1.0" opacity="0.3"/>
<line x1="66" y1="819.6" x2="430" y2="819.6" stroke="#9cc4ee" stroke-width="1.3" opacity="0.7"/>
<line x1="66" y1="821" x2="430" y2="821" stroke="#3a69b4" stroke-width="1.0" opacity="0.45"/>
<rect x="68" y="821" width="360" height="29.5" fill="url(#g4d)"/>
<g>
<path d="M137 834C132 836.5 126 837 122.3 835.2C119 833 117.6 829.5 118.2 826.2C117.8 822.5 119.5 819 122.5 816.8C124.5 813.5 128 811 132 810.4C135.5 808.6 140.5 808.4 144 810C148 810.6 151.5 813.2 153 816.5C155.5 819 156.5 823 155.3 826.3C155 829.5 152 831.5 148 832C144 833.5 140 834 137 834Z" fill="#1d3563" opacity=".35" transform="translate(1.2 1.6)" filter="url(#soft)"/>
<path d="M121.5 841.6C127 838.5 133 836.5 138.5 836.8C145 836 152 834 157.8 832.4C156.5 839 151.5 845 144.5 847.2C137 849.2 127.5 847 121.5 841.6Z" fill="#1d3563" opacity=".35" transform="translate(1 1.5)" filter="url(#soft)"/>
<path d="M121.5 841.6C127 838.5 133 836.5 138.5 836.8C145 836 152 834 157.8 832.4C156.5 839 151.5 845 144.5 847.2C137 849.2 127.5 847 121.5 841.6Z" fill="#ead9c4"/>
<clipPath id="loc"><path d="M121.5 841.6C127 838.5 133 836.5 138.5 836.8C145 836 152 834 157.8 832.4C156.5 839 151.5 845 144.5 847.2C137 849.2 127.5 847 121.5 841.6Z"/></clipPath><g clip-path="url(#loc)">
<line x1="124.5" y1="838" x2="126" y2="849" stroke="#c9966a" stroke-width="1.7" opacity=".85"/>
<line x1="129.3" y1="838" x2="130.3" y2="849" stroke="#c9966a" stroke-width="1.7" opacity=".85"/>
<line x1="134.1" y1="838" x2="134.6" y2="849" stroke="#c9966a" stroke-width="1.7" opacity=".85"/>
<line x1="138.9" y1="838" x2="138.9" y2="849" stroke="#c9966a" stroke-width="1.7" opacity=".85"/>
<line x1="143.7" y1="838" x2="143.2" y2="849" stroke="#c9966a" stroke-width="1.7" opacity=".85"/>
<line x1="148.5" y1="838" x2="147.5" y2="849" stroke="#c9966a" stroke-width="1.7" opacity=".85"/>
<line x1="153.3" y1="838" x2="151.8" y2="849" stroke="#c9966a" stroke-width="1.7" opacity=".85"/>
<path d="M121 841.5C128 838 134 836.5 139 836.8C146 836 152 834 158 832.3" stroke="#fbf5ee" stroke-width="2.2" fill="none"/>
</g>
<path d="M137 834C132 836.5 126 837 122.3 835.2C119 833 117.6 829.5 118.2 826.2C117.8 822.5 119.5 819 122.5 816.8C124.5 813.5 128 811 132 810.4C135.5 808.6 140.5 808.4 144 810C148 810.6 151.5 813.2 153 816.5C155.5 819 156.5 823 155.3 826.3C155 829.5 152 831.5 148 832C144 833.5 140 834 137 834Z" fill="#efe4da" stroke="#fbf8f4" stroke-width="1.2"/>
<path d="M137 834C132 836.5 126 837 122.3 835.2C119 833 117.6 829.5 118.2 826.2C117.8 822.5 119.5 819 122.5 816.8C124.5 813.5 128 811 132 810.4C135.5 808.6 140.5 808.4 144 810C148 810.6 151.5 813.2 153 816.5C155.5 819 156.5 823 155.3 826.3C155 829.5 152 831.5 148 832C144 833.5 140 834 137 834Z" fill="none" stroke="#fdfbf8" stroke-width="2" stroke-dasharray="3.2 1.3" stroke-linecap="round"/>
<ellipse cx="137" cy="823" rx="13" ry="8.5" fill="#e3cfc6" opacity=".6" filter="url(#soft2)"/>
<circle cx="138.4" cy="834.2" r="3.6" fill="url(#gpearl)"/>
</g>
<g>
<path d="M308.3 806.4L358.8 819.8L352 830.4L339 829.8C328 828.5 319 825 314.4 820.5Z" fill="#14274e" opacity=".4" transform="translate(1 1.6)" filter="url(#soft)"/>
<path d="M312.7 805L332.2 781.8L342.2 783.4L333 810.2Z" fill="#2a8db3"/>
<path d="M312.7 805L332.2 781.8L336 782.4L320 807Z" fill="#3ba3c6" opacity=".6"/>
<path d="M343.4 784.2L352.8 786.8L356.8 819.4L335.4 810.8Z" fill="#e9e5dd"/>
<path d="M352.4 787L356.6 819.2" stroke="#fdfcf8" stroke-width="1.4" fill="none"/>
<path d="M342.8 783.4L333.8 811" stroke="#c9a24e" stroke-width="1.7" fill="none"/>
<path d="M308.3 806.4L341.5 815.4L340.2 830C328 828.6 319 825 314.4 820.5C311.5 816.5 309.5 811.5 308.3 806.4Z" fill="#1b3566"/>
<path d="M341.5 815.4L358.8 819.8C357.8 824.5 355 828.5 352 830.4L340.2 830Z" fill="#2e9a62"/>
<path d="M309.5 806.8L358.5 820" stroke="#8fb5c9" stroke-width="1.2" fill="none" opacity=".8"/>
</g>
<path d="M192.6 863.7L217 863.1L209.9 841.3L220.1 861.9L236.3 847.6L222.5 864.6L237.3 878.4L220.2 867.7L209.5 884.8L216.9 866.3Z" fill="#1a2f60" opacity=".4" filter="url(#soft)" stroke="#1a2f60" stroke-width="1.8" stroke-linejoin="round"/>
<path d="M209.9 841.3L218.8 860.3L236.3 847.6L220.9 863L237.3 878.4L218.8 865.7L209.5 884.8L215.8 864.6L192.6 863.7L215.8 861.4Z" fill="#e9e2d9" stroke="#e9e2d9" stroke-width="2" stroke-linejoin="round"/>
<line x1="218.1" y1="863" x2="211.1" y2="844.6" stroke="#fbf8f2" stroke-width="1" stroke-linecap="round" opacity=".9"/>
<line x1="218.1" y1="863" x2="233.6" y2="849.9" stroke="#fbf8f2" stroke-width="1" stroke-linecap="round" opacity=".9"/>
<line x1="218.1" y1="863" x2="234.4" y2="876.1" stroke="#fbf8f2" stroke-width="1" stroke-linecap="round" opacity=".9"/>
<line x1="218.1" y1="863" x2="210.8" y2="881.5" stroke="#fbf8f2" stroke-width="1" stroke-linecap="round" opacity=".9"/>
<line x1="218.1" y1="863" x2="196.4" y2="863.6" stroke="#fbf8f2" stroke-width="1" stroke-linecap="round" opacity=".9"/>
</g>
<use href="#bt" transform="translate(70.3 768) scale(1 1.0076)" fill="none" stroke="#2f4e86" stroke-width="1.15" opacity=".9"/>
</g>
</svg>
<div class="script happy"><span class="word" style="left:164.1px;top:673.7px;font-size:51px;transform:scale(1.02,1);-webkit-text-stroke-width:0.35px">Happy</span></div>
<div class="script place"><span class="word" style="left:190.9px;top:806.0px;font-size:46px;transform:scale(1.0,1);-webkit-text-stroke-width:0.3px">Place</span></div>
</body>
</html>
